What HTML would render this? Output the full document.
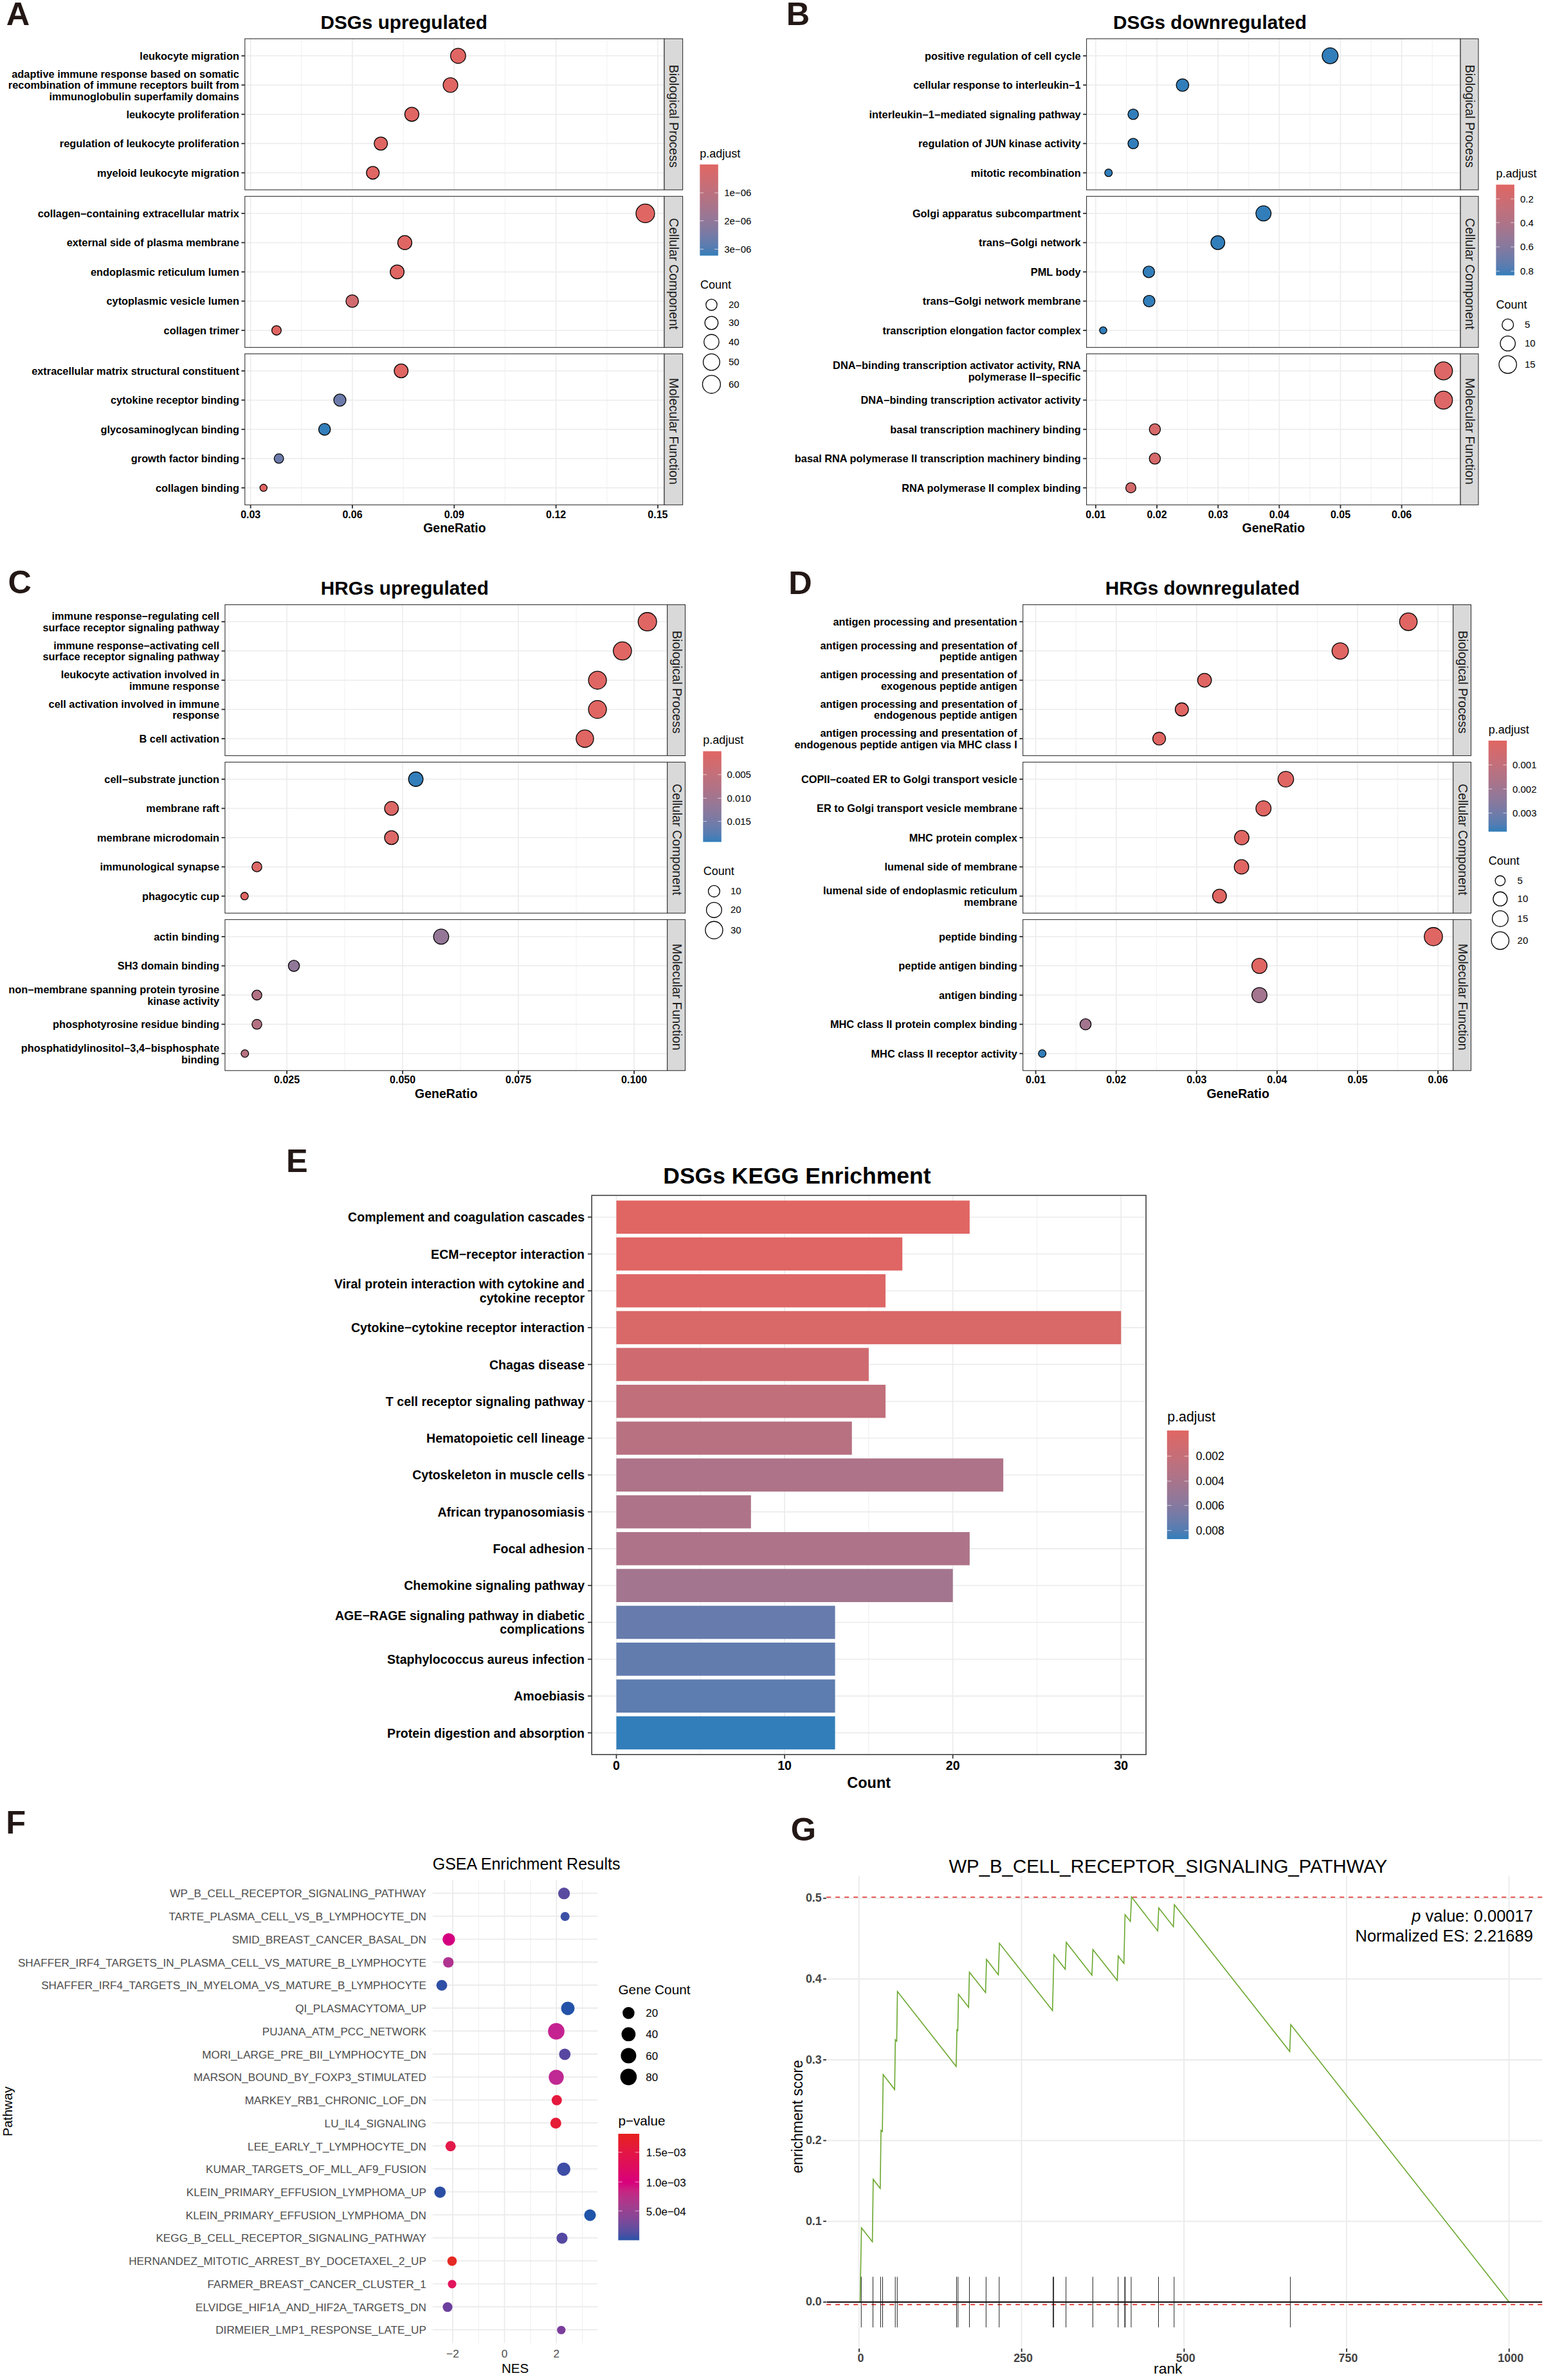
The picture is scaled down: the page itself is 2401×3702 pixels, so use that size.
<!DOCTYPE html>
<html lang="en"><head><meta charset="utf-8"><title>Enrichment figure</title>
<style>html,body{margin:0;padding:0;background:#fff}body{width:2401px;height:3702px;overflow:hidden;font-family:"Liberation Sans",Arial,sans-serif}svg text{white-space:pre}</style></head>
<body>
<svg width="2401" height="3702" viewBox="0 0 2401 3702" font-family="'Liberation Sans', Arial, sans-serif" style="display:block"><defs><linearGradient id="g1" x1="0" y1="0" x2="0" y2="1"><stop offset="0" stop-color="#E06663"/><stop offset="0.08" stop-color="#D7696A"/><stop offset="0.17" stop-color="#CD6C72"/><stop offset="0.25" stop-color="#C46F79"/><stop offset="0.33" stop-color="#B97180"/><stop offset="0.42" stop-color="#AF7387"/><stop offset="0.5" stop-color="#A3758E"/><stop offset="0.58" stop-color="#977796"/><stop offset="0.67" stop-color="#89799D"/><stop offset="0.75" stop-color="#7A7AA4"/><stop offset="0.83" stop-color="#697CAB"/><stop offset="0.92" stop-color="#537DB3"/><stop offset="1" stop-color="#327EBA"/></linearGradient><linearGradient id="g2" x1="0" y1="0" x2="0" y2="1"><stop offset="0" stop-color="#E06663"/><stop offset="0.08" stop-color="#D7696A"/><stop offset="0.17" stop-color="#CD6C72"/><stop offset="0.25" stop-color="#C46F79"/><stop offset="0.33" stop-color="#B97180"/><stop offset="0.42" stop-color="#AF7387"/><stop offset="0.5" stop-color="#A3758E"/><stop offset="0.58" stop-color="#977796"/><stop offset="0.67" stop-color="#89799D"/><stop offset="0.75" stop-color="#7A7AA4"/><stop offset="0.83" stop-color="#697CAB"/><stop offset="0.92" stop-color="#537DB3"/><stop offset="1" stop-color="#327EBA"/></linearGradient><linearGradient id="g3" x1="0" y1="0" x2="0" y2="1"><stop offset="0" stop-color="#E06663"/><stop offset="0.08" stop-color="#D7696A"/><stop offset="0.17" stop-color="#CD6C72"/><stop offset="0.25" stop-color="#C46F79"/><stop offset="0.33" stop-color="#B97180"/><stop offset="0.42" stop-color="#AF7387"/><stop offset="0.5" stop-color="#A3758E"/><stop offset="0.58" stop-color="#977796"/><stop offset="0.67" stop-color="#89799D"/><stop offset="0.75" stop-color="#7A7AA4"/><stop offset="0.83" stop-color="#697CAB"/><stop offset="0.92" stop-color="#537DB3"/><stop offset="1" stop-color="#327EBA"/></linearGradient><linearGradient id="g4" x1="0" y1="0" x2="0" y2="1"><stop offset="0" stop-color="#E06663"/><stop offset="0.08" stop-color="#D7696A"/><stop offset="0.17" stop-color="#CD6C72"/><stop offset="0.25" stop-color="#C46F79"/><stop offset="0.33" stop-color="#B97180"/><stop offset="0.42" stop-color="#AF7387"/><stop offset="0.5" stop-color="#A3758E"/><stop offset="0.58" stop-color="#977796"/><stop offset="0.67" stop-color="#89799D"/><stop offset="0.75" stop-color="#7A7AA4"/><stop offset="0.83" stop-color="#697CAB"/><stop offset="0.92" stop-color="#537DB3"/><stop offset="1" stop-color="#327EBA"/></linearGradient><linearGradient id="g5" x1="0" y1="0" x2="0" y2="1"><stop offset="0" stop-color="#E06663"/><stop offset="0.08" stop-color="#D7696A"/><stop offset="0.17" stop-color="#CD6C72"/><stop offset="0.25" stop-color="#C46F79"/><stop offset="0.33" stop-color="#B97180"/><stop offset="0.42" stop-color="#AF7387"/><stop offset="0.5" stop-color="#A3758E"/><stop offset="0.58" stop-color="#977796"/><stop offset="0.67" stop-color="#89799D"/><stop offset="0.75" stop-color="#7A7AA4"/><stop offset="0.83" stop-color="#697CAB"/><stop offset="0.92" stop-color="#537DB3"/><stop offset="1" stop-color="#327EBA"/></linearGradient><linearGradient id="g6" x1="0" y1="0" x2="0" y2="1"><stop offset="0" stop-color="#E6211D"/><stop offset="0.06" stop-color="#E51E2B"/><stop offset="0.12" stop-color="#E41A38"/><stop offset="0.17" stop-color="#E31644"/><stop offset="0.23" stop-color="#E1124F"/><stop offset="0.29" stop-color="#DF0E5A"/><stop offset="0.35" stop-color="#DD0966"/><stop offset="0.4" stop-color="#DB0471"/><stop offset="0.46" stop-color="#D8007C"/><stop offset="0.46" stop-color="#D8007C"/><stop offset="0.53" stop-color="#C92281"/><stop offset="0.59" stop-color="#B93087"/><stop offset="0.66" stop-color="#A83A8C"/><stop offset="0.73" stop-color="#964292"/><stop offset="0.8" stop-color="#834797"/><stop offset="0.86" stop-color="#6D4C9D"/><stop offset="0.93" stop-color="#534FA2"/><stop offset="1" stop-color="#2A52A8"/></linearGradient></defs>
<rect x="0" y="0" width="2401" height="3702" fill="#fff"/>
<text x="9.8" y="38.9" font-size="50.5" font-weight="bold" fill="#231815">A</text>
<text x="1222.85" y="38.9" font-size="50.5" font-weight="bold" fill="#231815">B</text>
<text x="12.55" y="923.2" font-size="50.5" font-weight="bold" fill="#231815">C</text>
<text x="1226.15" y="923.8" font-size="50.5" font-weight="bold" fill="#231815">D</text>
<text x="444.9" y="1822.8" font-size="50.5" font-weight="bold" fill="#231815">E</text>
<text x="9.35" y="2851.8" font-size="50.5" font-weight="bold" fill="#231815">F</text>
<text x="1229.85" y="2863.1" font-size="50.5" font-weight="bold" fill="#231815">G</text>
<rect x="380.8" y="60.3" width="652.2" height="235" fill="#fff"/>
<g stroke="#EBEBEB">
<line x1="468.86" y1="60.3" x2="468.86" y2="295.3" stroke="#EBEBEB" stroke-width="0.75"/>
<line x1="627.16" y1="60.3" x2="627.16" y2="295.3" stroke="#EBEBEB" stroke-width="0.75"/>
<line x1="785.47" y1="60.3" x2="785.47" y2="295.3" stroke="#EBEBEB" stroke-width="0.75"/>
<line x1="943.79" y1="60.3" x2="943.79" y2="295.3" stroke="#EBEBEB" stroke-width="0.75"/>
<line x1="389.7" y1="60.3" x2="389.7" y2="295.3" stroke="#EBEBEB" stroke-width="1.5"/>
<line x1="548.01" y1="60.3" x2="548.01" y2="295.3" stroke="#EBEBEB" stroke-width="1.5"/>
<line x1="706.32" y1="60.3" x2="706.32" y2="295.3" stroke="#EBEBEB" stroke-width="1.5"/>
<line x1="864.63" y1="60.3" x2="864.63" y2="295.3" stroke="#EBEBEB" stroke-width="1.5"/>
<line x1="1022.94" y1="60.3" x2="1022.94" y2="295.3" stroke="#EBEBEB" stroke-width="1.5"/>
<line x1="380.8" y1="86.82" x2="1033" y2="86.82" stroke="#EBEBEB" stroke-width="1.5"/>
<line x1="380.8" y1="132.31" x2="1033" y2="132.31" stroke="#EBEBEB" stroke-width="1.5"/>
<line x1="380.8" y1="177.8" x2="1033" y2="177.8" stroke="#EBEBEB" stroke-width="1.5"/>
<line x1="380.8" y1="223.29" x2="1033" y2="223.29" stroke="#EBEBEB" stroke-width="1.5"/>
<line x1="380.8" y1="268.78" x2="1033" y2="268.78" stroke="#EBEBEB" stroke-width="1.5"/>
</g>
<circle cx="712.4" cy="86.82" r="11.75" fill="#E06663" stroke="#000" stroke-width="1.3"/>
<circle cx="700.5" cy="132.31" r="11.35" fill="#E06663" stroke="#000" stroke-width="1.3"/>
<circle cx="640.4" cy="177.8" r="10.95" fill="#E06663" stroke="#000" stroke-width="1.3"/>
<circle cx="592.2" cy="223.29" r="10.25" fill="#E06663" stroke="#000" stroke-width="1.3"/>
<circle cx="579.8" cy="268.78" r="9.95" fill="#E06663" stroke="#000" stroke-width="1.3"/>
<rect x="380.8" y="60.3" width="652.2" height="235" fill="none" stroke="#333333" stroke-width="1.1"/>
<rect x="1033" y="60.3" width="28.6" height="235" fill="#D9D9D9" stroke="#333333" stroke-width="1.1"/>
<text transform="translate(1047.3 180.8) rotate(90)" text-anchor="middle" font-size="19.6" fill="#1A1A1A" y="6.0">Biological Process</text>
<line x1="375.4" y1="86.82" x2="380.8" y2="86.82" stroke="#333333" stroke-width="1.9"/>
<text x="371.9" y="92.8" font-size="16.38" font-weight="bold" text-anchor="end">leukocyte migration</text>
<line x1="375.4" y1="132.31" x2="380.8" y2="132.31" stroke="#333333" stroke-width="1.9"/>
<text x="371.9" y="120.6" font-size="16.38" font-weight="bold" text-anchor="end">adaptive immune response based on somatic</text>
<text x="371.9" y="138.29" font-size="16.38" font-weight="bold" text-anchor="end">recombination of immune receptors built from</text>
<text x="371.9" y="155.98" font-size="16.38" font-weight="bold" text-anchor="end">immunoglobulin superfamily domains</text>
<line x1="375.4" y1="177.8" x2="380.8" y2="177.8" stroke="#333333" stroke-width="1.9"/>
<text x="371.9" y="183.78" font-size="16.38" font-weight="bold" text-anchor="end">leukocyte proliferation</text>
<line x1="375.4" y1="223.29" x2="380.8" y2="223.29" stroke="#333333" stroke-width="1.9"/>
<text x="371.9" y="229.27" font-size="16.38" font-weight="bold" text-anchor="end">regulation of leukocyte proliferation</text>
<line x1="375.4" y1="268.78" x2="380.8" y2="268.78" stroke="#333333" stroke-width="1.9"/>
<text x="371.9" y="274.76" font-size="16.38" font-weight="bold" text-anchor="end">myeloid leukocyte migration</text>
<rect x="380.8" y="305.4" width="652.2" height="235" fill="#fff"/>
<g stroke="#EBEBEB">
<line x1="468.86" y1="305.4" x2="468.86" y2="540.4" stroke="#EBEBEB" stroke-width="0.75"/>
<line x1="627.16" y1="305.4" x2="627.16" y2="540.4" stroke="#EBEBEB" stroke-width="0.75"/>
<line x1="785.47" y1="305.4" x2="785.47" y2="540.4" stroke="#EBEBEB" stroke-width="0.75"/>
<line x1="943.79" y1="305.4" x2="943.79" y2="540.4" stroke="#EBEBEB" stroke-width="0.75"/>
<line x1="389.7" y1="305.4" x2="389.7" y2="540.4" stroke="#EBEBEB" stroke-width="1.5"/>
<line x1="548.01" y1="305.4" x2="548.01" y2="540.4" stroke="#EBEBEB" stroke-width="1.5"/>
<line x1="706.32" y1="305.4" x2="706.32" y2="540.4" stroke="#EBEBEB" stroke-width="1.5"/>
<line x1="864.63" y1="305.4" x2="864.63" y2="540.4" stroke="#EBEBEB" stroke-width="1.5"/>
<line x1="1022.94" y1="305.4" x2="1022.94" y2="540.4" stroke="#EBEBEB" stroke-width="1.5"/>
<line x1="380.8" y1="331.92" x2="1033" y2="331.92" stroke="#EBEBEB" stroke-width="1.5"/>
<line x1="380.8" y1="377.41" x2="1033" y2="377.41" stroke="#EBEBEB" stroke-width="1.5"/>
<line x1="380.8" y1="422.9" x2="1033" y2="422.9" stroke="#EBEBEB" stroke-width="1.5"/>
<line x1="380.8" y1="468.39" x2="1033" y2="468.39" stroke="#EBEBEB" stroke-width="1.5"/>
<line x1="380.8" y1="513.88" x2="1033" y2="513.88" stroke="#EBEBEB" stroke-width="1.5"/>
</g>
<circle cx="1003.5" cy="331.92" r="14.45" fill="#E06663" stroke="#000" stroke-width="1.3"/>
<circle cx="629.5" cy="377.41" r="10.95" fill="#E06663" stroke="#000" stroke-width="1.3"/>
<circle cx="617.6" cy="422.9" r="10.75" fill="#E06663" stroke="#000" stroke-width="1.3"/>
<circle cx="547.7" cy="468.39" r="9.75" fill="#D16B6F" stroke="#000" stroke-width="1.3"/>
<circle cx="430" cy="513.88" r="7.35" fill="#E06663" stroke="#000" stroke-width="1.3"/>
<rect x="380.8" y="305.4" width="652.2" height="235" fill="none" stroke="#333333" stroke-width="1.1"/>
<rect x="1033" y="305.4" width="28.6" height="235" fill="#D9D9D9" stroke="#333333" stroke-width="1.1"/>
<text transform="translate(1047.3 425.9) rotate(90)" text-anchor="middle" font-size="19.6" fill="#1A1A1A" y="6.0">Cellular Component</text>
<line x1="375.4" y1="331.92" x2="380.8" y2="331.92" stroke="#333333" stroke-width="1.9"/>
<text x="371.9" y="337.9" font-size="16.38" font-weight="bold" text-anchor="end">collagen−containing extracellular matrix</text>
<line x1="375.4" y1="377.41" x2="380.8" y2="377.41" stroke="#333333" stroke-width="1.9"/>
<text x="371.9" y="383.39" font-size="16.38" font-weight="bold" text-anchor="end">external side of plasma membrane</text>
<line x1="375.4" y1="422.9" x2="380.8" y2="422.9" stroke="#333333" stroke-width="1.9"/>
<text x="371.9" y="428.88" font-size="16.38" font-weight="bold" text-anchor="end">endoplasmic reticulum lumen</text>
<line x1="375.4" y1="468.39" x2="380.8" y2="468.39" stroke="#333333" stroke-width="1.9"/>
<text x="371.9" y="474.37" font-size="16.38" font-weight="bold" text-anchor="end">cytoplasmic vesicle lumen</text>
<line x1="375.4" y1="513.88" x2="380.8" y2="513.88" stroke="#333333" stroke-width="1.9"/>
<text x="371.9" y="519.86" font-size="16.38" font-weight="bold" text-anchor="end">collagen trimer</text>
<rect x="380.8" y="550.4" width="652.2" height="234.9" fill="#fff"/>
<g stroke="#EBEBEB">
<line x1="468.86" y1="550.4" x2="468.86" y2="785.3" stroke="#EBEBEB" stroke-width="0.75"/>
<line x1="627.16" y1="550.4" x2="627.16" y2="785.3" stroke="#EBEBEB" stroke-width="0.75"/>
<line x1="785.47" y1="550.4" x2="785.47" y2="785.3" stroke="#EBEBEB" stroke-width="0.75"/>
<line x1="943.79" y1="550.4" x2="943.79" y2="785.3" stroke="#EBEBEB" stroke-width="0.75"/>
<line x1="389.7" y1="550.4" x2="389.7" y2="785.3" stroke="#EBEBEB" stroke-width="1.5"/>
<line x1="548.01" y1="550.4" x2="548.01" y2="785.3" stroke="#EBEBEB" stroke-width="1.5"/>
<line x1="706.32" y1="550.4" x2="706.32" y2="785.3" stroke="#EBEBEB" stroke-width="1.5"/>
<line x1="864.63" y1="550.4" x2="864.63" y2="785.3" stroke="#EBEBEB" stroke-width="1.5"/>
<line x1="1022.94" y1="550.4" x2="1022.94" y2="785.3" stroke="#EBEBEB" stroke-width="1.5"/>
<line x1="380.8" y1="576.91" x2="1033" y2="576.91" stroke="#EBEBEB" stroke-width="1.5"/>
<line x1="380.8" y1="622.38" x2="1033" y2="622.38" stroke="#EBEBEB" stroke-width="1.5"/>
<line x1="380.8" y1="667.85" x2="1033" y2="667.85" stroke="#EBEBEB" stroke-width="1.5"/>
<line x1="380.8" y1="713.32" x2="1033" y2="713.32" stroke="#EBEBEB" stroke-width="1.5"/>
<line x1="380.8" y1="758.79" x2="1033" y2="758.79" stroke="#EBEBEB" stroke-width="1.5"/>
</g>
<circle cx="623.8" cy="576.91" r="10.75" fill="#E06663" stroke="#000" stroke-width="1.3"/>
<circle cx="528.5" cy="622.38" r="9.45" fill="#6C7BAA" stroke="#000" stroke-width="1.3"/>
<circle cx="504.7" cy="667.85" r="9.15" fill="#327EBA" stroke="#000" stroke-width="1.3"/>
<circle cx="433.7" cy="713.32" r="7.35" fill="#6C7BAA" stroke="#000" stroke-width="1.3"/>
<circle cx="409.8" cy="758.79" r="5.55" fill="#E06663" stroke="#000" stroke-width="1.3"/>
<rect x="380.8" y="550.4" width="652.2" height="234.9" fill="none" stroke="#333333" stroke-width="1.1"/>
<rect x="1033" y="550.4" width="28.6" height="234.9" fill="#D9D9D9" stroke="#333333" stroke-width="1.1"/>
<text transform="translate(1047.3 670.85) rotate(90)" text-anchor="middle" font-size="19.6" fill="#1A1A1A" y="6.0">Molecular Function</text>
<line x1="375.4" y1="576.91" x2="380.8" y2="576.91" stroke="#333333" stroke-width="1.9"/>
<text x="371.9" y="582.89" font-size="16.38" font-weight="bold" text-anchor="end">extracellular matrix structural constituent</text>
<line x1="375.4" y1="622.38" x2="380.8" y2="622.38" stroke="#333333" stroke-width="1.9"/>
<text x="371.9" y="628.36" font-size="16.38" font-weight="bold" text-anchor="end">cytokine receptor binding</text>
<line x1="375.4" y1="667.85" x2="380.8" y2="667.85" stroke="#333333" stroke-width="1.9"/>
<text x="371.9" y="673.83" font-size="16.38" font-weight="bold" text-anchor="end">glycosaminoglycan binding</text>
<line x1="375.4" y1="713.32" x2="380.8" y2="713.32" stroke="#333333" stroke-width="1.9"/>
<text x="371.9" y="719.3" font-size="16.38" font-weight="bold" text-anchor="end">growth factor binding</text>
<line x1="375.4" y1="758.79" x2="380.8" y2="758.79" stroke="#333333" stroke-width="1.9"/>
<text x="371.9" y="764.77" font-size="16.38" font-weight="bold" text-anchor="end">collagen binding</text>
<line x1="389.7" y1="785.3" x2="389.7" y2="790.7" stroke="#333333" stroke-width="1.9"/>
<text x="389.7" y="805.5" font-size="16" font-weight="bold" text-anchor="middle">0.03</text>
<line x1="548.01" y1="785.3" x2="548.01" y2="790.7" stroke="#333333" stroke-width="1.9"/>
<text x="548.01" y="805.5" font-size="16" font-weight="bold" text-anchor="middle">0.06</text>
<line x1="706.32" y1="785.3" x2="706.32" y2="790.7" stroke="#333333" stroke-width="1.9"/>
<text x="706.32" y="805.5" font-size="16" font-weight="bold" text-anchor="middle">0.09</text>
<line x1="864.63" y1="785.3" x2="864.63" y2="790.7" stroke="#333333" stroke-width="1.9"/>
<text x="864.63" y="805.5" font-size="16" font-weight="bold" text-anchor="middle">0.12</text>
<line x1="1022.94" y1="785.3" x2="1022.94" y2="790.7" stroke="#333333" stroke-width="1.9"/>
<text x="1022.94" y="805.5" font-size="16" font-weight="bold" text-anchor="middle">0.15</text>
<text x="706.9" y="827.9" font-size="19.5" font-weight="bold" text-anchor="middle">GeneRatio</text>
<text x="498.4" y="45" font-size="29.75" font-weight="bold">DSGs upregulated</text>
<rect x="1689.6" y="60.3" width="581.5" height="235" fill="#fff"/>
<g stroke="#EBEBEB">
<line x1="1751.48" y1="60.3" x2="1751.48" y2="295.3" stroke="#EBEBEB" stroke-width="0.75"/>
<line x1="1846.62" y1="60.3" x2="1846.62" y2="295.3" stroke="#EBEBEB" stroke-width="0.75"/>
<line x1="1941.78" y1="60.3" x2="1941.78" y2="295.3" stroke="#EBEBEB" stroke-width="0.75"/>
<line x1="2036.93" y1="60.3" x2="2036.93" y2="295.3" stroke="#EBEBEB" stroke-width="0.75"/>
<line x1="2132.08" y1="60.3" x2="2132.08" y2="295.3" stroke="#EBEBEB" stroke-width="0.75"/>
<line x1="2227.23" y1="60.3" x2="2227.23" y2="295.3" stroke="#EBEBEB" stroke-width="0.75"/>
<line x1="1703.9" y1="60.3" x2="1703.9" y2="295.3" stroke="#EBEBEB" stroke-width="1.5"/>
<line x1="1799.05" y1="60.3" x2="1799.05" y2="295.3" stroke="#EBEBEB" stroke-width="1.5"/>
<line x1="1894.2" y1="60.3" x2="1894.2" y2="295.3" stroke="#EBEBEB" stroke-width="1.5"/>
<line x1="1989.35" y1="60.3" x2="1989.35" y2="295.3" stroke="#EBEBEB" stroke-width="1.5"/>
<line x1="2084.5" y1="60.3" x2="2084.5" y2="295.3" stroke="#EBEBEB" stroke-width="1.5"/>
<line x1="2179.65" y1="60.3" x2="2179.65" y2="295.3" stroke="#EBEBEB" stroke-width="1.5"/>
<line x1="1689.6" y1="86.82" x2="2271.1" y2="86.82" stroke="#EBEBEB" stroke-width="1.5"/>
<line x1="1689.6" y1="132.31" x2="2271.1" y2="132.31" stroke="#EBEBEB" stroke-width="1.5"/>
<line x1="1689.6" y1="177.8" x2="2271.1" y2="177.8" stroke="#EBEBEB" stroke-width="1.5"/>
<line x1="1689.6" y1="223.29" x2="2271.1" y2="223.29" stroke="#EBEBEB" stroke-width="1.5"/>
<line x1="1689.6" y1="268.78" x2="2271.1" y2="268.78" stroke="#EBEBEB" stroke-width="1.5"/>
</g>
<circle cx="2068.4" cy="86.82" r="12.35" fill="#327EBA" stroke="#000" stroke-width="1.3"/>
<circle cx="1838.9" cy="132.31" r="9.75" fill="#327EBA" stroke="#000" stroke-width="1.3"/>
<circle cx="1762.2" cy="177.8" r="8.15" fill="#327EBA" stroke="#000" stroke-width="1.3"/>
<circle cx="1762.2" cy="223.29" r="8.15" fill="#327EBA" stroke="#000" stroke-width="1.3"/>
<circle cx="1723.8" cy="268.78" r="5.85" fill="#327EBA" stroke="#000" stroke-width="1.3"/>
<rect x="1689.6" y="60.3" width="581.5" height="235" fill="none" stroke="#333333" stroke-width="1.1"/>
<rect x="2271.1" y="60.3" width="27.9" height="235" fill="#D9D9D9" stroke="#333333" stroke-width="1.1"/>
<text transform="translate(2285.05 180.8) rotate(90)" text-anchor="middle" font-size="19.6" fill="#1A1A1A" y="6.0">Biological Process</text>
<line x1="1684.2" y1="86.82" x2="1689.6" y2="86.82" stroke="#333333" stroke-width="1.9"/>
<text x="1680.7" y="92.8" font-size="16.38" font-weight="bold" text-anchor="end">positive regulation of cell cycle</text>
<line x1="1684.2" y1="132.31" x2="1689.6" y2="132.31" stroke="#333333" stroke-width="1.9"/>
<text x="1680.7" y="138.29" font-size="16.38" font-weight="bold" text-anchor="end">cellular response to interleukin−1</text>
<line x1="1684.2" y1="177.8" x2="1689.6" y2="177.8" stroke="#333333" stroke-width="1.9"/>
<text x="1680.7" y="183.78" font-size="16.38" font-weight="bold" text-anchor="end">interleukin−1−mediated signaling pathway</text>
<line x1="1684.2" y1="223.29" x2="1689.6" y2="223.29" stroke="#333333" stroke-width="1.9"/>
<text x="1680.7" y="229.27" font-size="16.38" font-weight="bold" text-anchor="end">regulation of JUN kinase activity</text>
<line x1="1684.2" y1="268.78" x2="1689.6" y2="268.78" stroke="#333333" stroke-width="1.9"/>
<text x="1680.7" y="274.76" font-size="16.38" font-weight="bold" text-anchor="end">mitotic recombination</text>
<rect x="1689.6" y="305.4" width="581.5" height="235" fill="#fff"/>
<g stroke="#EBEBEB">
<line x1="1751.48" y1="305.4" x2="1751.48" y2="540.4" stroke="#EBEBEB" stroke-width="0.75"/>
<line x1="1846.62" y1="305.4" x2="1846.62" y2="540.4" stroke="#EBEBEB" stroke-width="0.75"/>
<line x1="1941.78" y1="305.4" x2="1941.78" y2="540.4" stroke="#EBEBEB" stroke-width="0.75"/>
<line x1="2036.93" y1="305.4" x2="2036.93" y2="540.4" stroke="#EBEBEB" stroke-width="0.75"/>
<line x1="2132.08" y1="305.4" x2="2132.08" y2="540.4" stroke="#EBEBEB" stroke-width="0.75"/>
<line x1="2227.23" y1="305.4" x2="2227.23" y2="540.4" stroke="#EBEBEB" stroke-width="0.75"/>
<line x1="1703.9" y1="305.4" x2="1703.9" y2="540.4" stroke="#EBEBEB" stroke-width="1.5"/>
<line x1="1799.05" y1="305.4" x2="1799.05" y2="540.4" stroke="#EBEBEB" stroke-width="1.5"/>
<line x1="1894.2" y1="305.4" x2="1894.2" y2="540.4" stroke="#EBEBEB" stroke-width="1.5"/>
<line x1="1989.35" y1="305.4" x2="1989.35" y2="540.4" stroke="#EBEBEB" stroke-width="1.5"/>
<line x1="2084.5" y1="305.4" x2="2084.5" y2="540.4" stroke="#EBEBEB" stroke-width="1.5"/>
<line x1="2179.65" y1="305.4" x2="2179.65" y2="540.4" stroke="#EBEBEB" stroke-width="1.5"/>
<line x1="1689.6" y1="331.92" x2="2271.1" y2="331.92" stroke="#EBEBEB" stroke-width="1.5"/>
<line x1="1689.6" y1="377.41" x2="2271.1" y2="377.41" stroke="#EBEBEB" stroke-width="1.5"/>
<line x1="1689.6" y1="422.9" x2="2271.1" y2="422.9" stroke="#EBEBEB" stroke-width="1.5"/>
<line x1="1689.6" y1="468.39" x2="2271.1" y2="468.39" stroke="#EBEBEB" stroke-width="1.5"/>
<line x1="1689.6" y1="513.88" x2="2271.1" y2="513.88" stroke="#EBEBEB" stroke-width="1.5"/>
</g>
<circle cx="1964.8" cy="331.92" r="11.75" fill="#327EBA" stroke="#000" stroke-width="1.3"/>
<circle cx="1893.8" cy="377.41" r="10.75" fill="#327EBA" stroke="#000" stroke-width="1.3"/>
<circle cx="1786.5" cy="422.9" r="8.95" fill="#327EBA" stroke="#000" stroke-width="1.3"/>
<circle cx="1787" cy="468.39" r="8.95" fill="#327EBA" stroke="#000" stroke-width="1.3"/>
<circle cx="1715.5" cy="513.88" r="5.55" fill="#327EBA" stroke="#000" stroke-width="1.3"/>
<rect x="1689.6" y="305.4" width="581.5" height="235" fill="none" stroke="#333333" stroke-width="1.1"/>
<rect x="2271.1" y="305.4" width="27.9" height="235" fill="#D9D9D9" stroke="#333333" stroke-width="1.1"/>
<text transform="translate(2285.05 425.9) rotate(90)" text-anchor="middle" font-size="19.6" fill="#1A1A1A" y="6.0">Cellular Component</text>
<line x1="1684.2" y1="331.92" x2="1689.6" y2="331.92" stroke="#333333" stroke-width="1.9"/>
<text x="1680.7" y="337.9" font-size="16.38" font-weight="bold" text-anchor="end">Golgi apparatus subcompartment</text>
<line x1="1684.2" y1="377.41" x2="1689.6" y2="377.41" stroke="#333333" stroke-width="1.9"/>
<text x="1680.7" y="383.39" font-size="16.38" font-weight="bold" text-anchor="end">trans−Golgi network</text>
<line x1="1684.2" y1="422.9" x2="1689.6" y2="422.9" stroke="#333333" stroke-width="1.9"/>
<text x="1680.7" y="428.88" font-size="16.38" font-weight="bold" text-anchor="end">PML body</text>
<line x1="1684.2" y1="468.39" x2="1689.6" y2="468.39" stroke="#333333" stroke-width="1.9"/>
<text x="1680.7" y="474.37" font-size="16.38" font-weight="bold" text-anchor="end">trans−Golgi network membrane</text>
<line x1="1684.2" y1="513.88" x2="1689.6" y2="513.88" stroke="#333333" stroke-width="1.9"/>
<text x="1680.7" y="519.86" font-size="16.38" font-weight="bold" text-anchor="end">transcription elongation factor complex</text>
<rect x="1689.6" y="550.4" width="581.5" height="234.9" fill="#fff"/>
<g stroke="#EBEBEB">
<line x1="1751.48" y1="550.4" x2="1751.48" y2="785.3" stroke="#EBEBEB" stroke-width="0.75"/>
<line x1="1846.62" y1="550.4" x2="1846.62" y2="785.3" stroke="#EBEBEB" stroke-width="0.75"/>
<line x1="1941.78" y1="550.4" x2="1941.78" y2="785.3" stroke="#EBEBEB" stroke-width="0.75"/>
<line x1="2036.93" y1="550.4" x2="2036.93" y2="785.3" stroke="#EBEBEB" stroke-width="0.75"/>
<line x1="2132.08" y1="550.4" x2="2132.08" y2="785.3" stroke="#EBEBEB" stroke-width="0.75"/>
<line x1="2227.23" y1="550.4" x2="2227.23" y2="785.3" stroke="#EBEBEB" stroke-width="0.75"/>
<line x1="1703.9" y1="550.4" x2="1703.9" y2="785.3" stroke="#EBEBEB" stroke-width="1.5"/>
<line x1="1799.05" y1="550.4" x2="1799.05" y2="785.3" stroke="#EBEBEB" stroke-width="1.5"/>
<line x1="1894.2" y1="550.4" x2="1894.2" y2="785.3" stroke="#EBEBEB" stroke-width="1.5"/>
<line x1="1989.35" y1="550.4" x2="1989.35" y2="785.3" stroke="#EBEBEB" stroke-width="1.5"/>
<line x1="2084.5" y1="550.4" x2="2084.5" y2="785.3" stroke="#EBEBEB" stroke-width="1.5"/>
<line x1="2179.65" y1="550.4" x2="2179.65" y2="785.3" stroke="#EBEBEB" stroke-width="1.5"/>
<line x1="1689.6" y1="576.91" x2="2271.1" y2="576.91" stroke="#EBEBEB" stroke-width="1.5"/>
<line x1="1689.6" y1="622.38" x2="2271.1" y2="622.38" stroke="#EBEBEB" stroke-width="1.5"/>
<line x1="1689.6" y1="667.85" x2="2271.1" y2="667.85" stroke="#EBEBEB" stroke-width="1.5"/>
<line x1="1689.6" y1="713.32" x2="2271.1" y2="713.32" stroke="#EBEBEB" stroke-width="1.5"/>
<line x1="1689.6" y1="758.79" x2="2271.1" y2="758.79" stroke="#EBEBEB" stroke-width="1.5"/>
</g>
<circle cx="2244.7" cy="576.91" r="13.95" fill="#DD6766" stroke="#000" stroke-width="1.3"/>
<circle cx="2244.7" cy="622.38" r="13.95" fill="#DD6766" stroke="#000" stroke-width="1.3"/>
<circle cx="1795.9" cy="667.85" r="8.65" fill="#D7696A" stroke="#000" stroke-width="1.3"/>
<circle cx="1795.9" cy="713.32" r="8.65" fill="#D7696A" stroke="#000" stroke-width="1.3"/>
<circle cx="1758.5" cy="758.79" r="7.85" fill="#D56A6C" stroke="#000" stroke-width="1.3"/>
<rect x="1689.6" y="550.4" width="581.5" height="234.9" fill="none" stroke="#333333" stroke-width="1.1"/>
<rect x="2271.1" y="550.4" width="27.9" height="234.9" fill="#D9D9D9" stroke="#333333" stroke-width="1.1"/>
<text transform="translate(2285.05 670.85) rotate(90)" text-anchor="middle" font-size="19.6" fill="#1A1A1A" y="6.0">Molecular Function</text>
<line x1="1684.2" y1="576.91" x2="1689.6" y2="576.91" stroke="#333333" stroke-width="1.9"/>
<text x="1680.7" y="574.04" font-size="16.38" font-weight="bold" text-anchor="end">DNA−binding transcription activator activity, RNA</text>
<text x="1680.7" y="591.73" font-size="16.38" font-weight="bold" text-anchor="end">polymerase II−specific</text>
<line x1="1684.2" y1="622.38" x2="1689.6" y2="622.38" stroke="#333333" stroke-width="1.9"/>
<text x="1680.7" y="628.36" font-size="16.38" font-weight="bold" text-anchor="end">DNA−binding transcription activator activity</text>
<line x1="1684.2" y1="667.85" x2="1689.6" y2="667.85" stroke="#333333" stroke-width="1.9"/>
<text x="1680.7" y="673.83" font-size="16.38" font-weight="bold" text-anchor="end">basal transcription machinery binding</text>
<line x1="1684.2" y1="713.32" x2="1689.6" y2="713.32" stroke="#333333" stroke-width="1.9"/>
<text x="1680.7" y="719.3" font-size="16.38" font-weight="bold" text-anchor="end">basal RNA polymerase II transcription machinery binding</text>
<line x1="1684.2" y1="758.79" x2="1689.6" y2="758.79" stroke="#333333" stroke-width="1.9"/>
<text x="1680.7" y="764.77" font-size="16.38" font-weight="bold" text-anchor="end">RNA polymerase II complex binding</text>
<line x1="1703.9" y1="785.3" x2="1703.9" y2="790.7" stroke="#333333" stroke-width="1.9"/>
<text x="1703.9" y="805.5" font-size="16" font-weight="bold" text-anchor="middle">0.01</text>
<line x1="1799.05" y1="785.3" x2="1799.05" y2="790.7" stroke="#333333" stroke-width="1.9"/>
<text x="1799.05" y="805.5" font-size="16" font-weight="bold" text-anchor="middle">0.02</text>
<line x1="1894.2" y1="785.3" x2="1894.2" y2="790.7" stroke="#333333" stroke-width="1.9"/>
<text x="1894.2" y="805.5" font-size="16" font-weight="bold" text-anchor="middle">0.03</text>
<line x1="1989.35" y1="785.3" x2="1989.35" y2="790.7" stroke="#333333" stroke-width="1.9"/>
<text x="1989.35" y="805.5" font-size="16" font-weight="bold" text-anchor="middle">0.04</text>
<line x1="2084.5" y1="785.3" x2="2084.5" y2="790.7" stroke="#333333" stroke-width="1.9"/>
<text x="2084.5" y="805.5" font-size="16" font-weight="bold" text-anchor="middle">0.05</text>
<line x1="2179.65" y1="785.3" x2="2179.65" y2="790.7" stroke="#333333" stroke-width="1.9"/>
<text x="2179.65" y="805.5" font-size="16" font-weight="bold" text-anchor="middle">0.06</text>
<text x="1980.35" y="827.9" font-size="19.5" font-weight="bold" text-anchor="middle">GeneRatio</text>
<text x="1731.1" y="44.9" font-size="29.75" font-weight="bold">DSGs downregulated</text>
<rect x="349.9" y="940.6" width="687.8" height="234.85" fill="#fff"/>
<g stroke="#EBEBEB">
<line x1="356.1" y1="940.6" x2="356.1" y2="1175.45" stroke="#EBEBEB" stroke-width="0.75"/>
<line x1="536.1" y1="940.6" x2="536.1" y2="1175.45" stroke="#EBEBEB" stroke-width="0.75"/>
<line x1="716.1" y1="940.6" x2="716.1" y2="1175.45" stroke="#EBEBEB" stroke-width="0.75"/>
<line x1="896.1" y1="940.6" x2="896.1" y2="1175.45" stroke="#EBEBEB" stroke-width="0.75"/>
<line x1="446.1" y1="940.6" x2="446.1" y2="1175.45" stroke="#EBEBEB" stroke-width="1.5"/>
<line x1="626.1" y1="940.6" x2="626.1" y2="1175.45" stroke="#EBEBEB" stroke-width="1.5"/>
<line x1="806.1" y1="940.6" x2="806.1" y2="1175.45" stroke="#EBEBEB" stroke-width="1.5"/>
<line x1="986.1" y1="940.6" x2="986.1" y2="1175.45" stroke="#EBEBEB" stroke-width="1.5"/>
<line x1="349.9" y1="967.1" x2="1037.7" y2="967.1" stroke="#EBEBEB" stroke-width="1.5"/>
<line x1="349.9" y1="1012.56" x2="1037.7" y2="1012.56" stroke="#EBEBEB" stroke-width="1.5"/>
<line x1="349.9" y1="1058.03" x2="1037.7" y2="1058.03" stroke="#EBEBEB" stroke-width="1.5"/>
<line x1="349.9" y1="1103.49" x2="1037.7" y2="1103.49" stroke="#EBEBEB" stroke-width="1.5"/>
<line x1="349.9" y1="1148.95" x2="1037.7" y2="1148.95" stroke="#EBEBEB" stroke-width="1.5"/>
</g>
<circle cx="1006.7" cy="967.1" r="14.35" fill="#E06663" stroke="#000" stroke-width="1.3"/>
<circle cx="967.9" cy="1012.56" r="14.15" fill="#E06663" stroke="#000" stroke-width="1.3"/>
<circle cx="929.1" cy="1058.03" r="13.95" fill="#E06663" stroke="#000" stroke-width="1.3"/>
<circle cx="929.1" cy="1103.49" r="13.95" fill="#E06663" stroke="#000" stroke-width="1.3"/>
<circle cx="909.5" cy="1148.95" r="13.55" fill="#E06663" stroke="#000" stroke-width="1.3"/>
<rect x="349.9" y="940.6" width="687.8" height="234.85" fill="none" stroke="#333333" stroke-width="1.1"/>
<rect x="1037.7" y="940.6" width="27.8" height="234.85" fill="#D9D9D9" stroke="#333333" stroke-width="1.1"/>
<text transform="translate(1051.6 1061.03) rotate(90)" text-anchor="middle" font-size="19.6" fill="#1A1A1A" y="6.0">Biological Process</text>
<line x1="344.5" y1="967.1" x2="349.9" y2="967.1" stroke="#333333" stroke-width="1.9"/>
<text x="341" y="964.24" font-size="16.38" font-weight="bold" text-anchor="end">immune response−regulating cell</text>
<text x="341" y="981.93" font-size="16.38" font-weight="bold" text-anchor="end">surface receptor signaling pathway</text>
<line x1="344.5" y1="1012.56" x2="349.9" y2="1012.56" stroke="#333333" stroke-width="1.9"/>
<text x="341" y="1009.7" font-size="16.38" font-weight="bold" text-anchor="end">immune response−activating cell</text>
<text x="341" y="1027.39" font-size="16.38" font-weight="bold" text-anchor="end">surface receptor signaling pathway</text>
<line x1="344.5" y1="1058.03" x2="349.9" y2="1058.03" stroke="#333333" stroke-width="1.9"/>
<text x="341" y="1055.16" font-size="16.38" font-weight="bold" text-anchor="end">leukocyte activation involved in</text>
<text x="341" y="1072.85" font-size="16.38" font-weight="bold" text-anchor="end">immune response</text>
<line x1="344.5" y1="1103.49" x2="349.9" y2="1103.49" stroke="#333333" stroke-width="1.9"/>
<text x="341" y="1100.62" font-size="16.38" font-weight="bold" text-anchor="end">cell activation involved in immune</text>
<text x="341" y="1118.31" font-size="16.38" font-weight="bold" text-anchor="end">response</text>
<line x1="344.5" y1="1148.95" x2="349.9" y2="1148.95" stroke="#333333" stroke-width="1.9"/>
<text x="341" y="1154.93" font-size="16.38" font-weight="bold" text-anchor="end">B cell activation</text>
<rect x="349.9" y="1185.5" width="687.8" height="234.85" fill="#fff"/>
<g stroke="#EBEBEB">
<line x1="356.1" y1="1185.5" x2="356.1" y2="1420.35" stroke="#EBEBEB" stroke-width="0.75"/>
<line x1="536.1" y1="1185.5" x2="536.1" y2="1420.35" stroke="#EBEBEB" stroke-width="0.75"/>
<line x1="716.1" y1="1185.5" x2="716.1" y2="1420.35" stroke="#EBEBEB" stroke-width="0.75"/>
<line x1="896.1" y1="1185.5" x2="896.1" y2="1420.35" stroke="#EBEBEB" stroke-width="0.75"/>
<line x1="446.1" y1="1185.5" x2="446.1" y2="1420.35" stroke="#EBEBEB" stroke-width="1.5"/>
<line x1="626.1" y1="1185.5" x2="626.1" y2="1420.35" stroke="#EBEBEB" stroke-width="1.5"/>
<line x1="806.1" y1="1185.5" x2="806.1" y2="1420.35" stroke="#EBEBEB" stroke-width="1.5"/>
<line x1="986.1" y1="1185.5" x2="986.1" y2="1420.35" stroke="#EBEBEB" stroke-width="1.5"/>
<line x1="349.9" y1="1212" x2="1037.7" y2="1212" stroke="#EBEBEB" stroke-width="1.5"/>
<line x1="349.9" y1="1257.46" x2="1037.7" y2="1257.46" stroke="#EBEBEB" stroke-width="1.5"/>
<line x1="349.9" y1="1302.92" x2="1037.7" y2="1302.92" stroke="#EBEBEB" stroke-width="1.5"/>
<line x1="349.9" y1="1348.39" x2="1037.7" y2="1348.39" stroke="#EBEBEB" stroke-width="1.5"/>
<line x1="349.9" y1="1393.85" x2="1037.7" y2="1393.85" stroke="#EBEBEB" stroke-width="1.5"/>
</g>
<circle cx="646.6" cy="1212" r="11.25" fill="#327EBA" stroke="#000" stroke-width="1.3"/>
<circle cx="608.8" cy="1257.46" r="10.75" fill="#DC6867" stroke="#000" stroke-width="1.3"/>
<circle cx="608.8" cy="1302.92" r="10.75" fill="#DC6867" stroke="#000" stroke-width="1.3"/>
<circle cx="399.5" cy="1348.39" r="7.65" fill="#DC6867" stroke="#000" stroke-width="1.3"/>
<circle cx="380.3" cy="1393.85" r="5.85" fill="#DE6765" stroke="#000" stroke-width="1.3"/>
<rect x="349.9" y="1185.5" width="687.8" height="234.85" fill="none" stroke="#333333" stroke-width="1.1"/>
<rect x="1037.7" y="1185.5" width="27.8" height="234.85" fill="#D9D9D9" stroke="#333333" stroke-width="1.1"/>
<text transform="translate(1051.6 1305.92) rotate(90)" text-anchor="middle" font-size="19.6" fill="#1A1A1A" y="6.0">Cellular Component</text>
<line x1="344.5" y1="1212" x2="349.9" y2="1212" stroke="#333333" stroke-width="1.9"/>
<text x="341" y="1217.98" font-size="16.38" font-weight="bold" text-anchor="end">cell−substrate junction</text>
<line x1="344.5" y1="1257.46" x2="349.9" y2="1257.46" stroke="#333333" stroke-width="1.9"/>
<text x="341" y="1263.44" font-size="16.38" font-weight="bold" text-anchor="end">membrane raft</text>
<line x1="344.5" y1="1302.92" x2="349.9" y2="1302.92" stroke="#333333" stroke-width="1.9"/>
<text x="341" y="1308.9" font-size="16.38" font-weight="bold" text-anchor="end">membrane microdomain</text>
<line x1="344.5" y1="1348.39" x2="349.9" y2="1348.39" stroke="#333333" stroke-width="1.9"/>
<text x="341" y="1354.36" font-size="16.38" font-weight="bold" text-anchor="end">immunological synapse</text>
<line x1="344.5" y1="1393.85" x2="349.9" y2="1393.85" stroke="#333333" stroke-width="1.9"/>
<text x="341" y="1399.83" font-size="16.38" font-weight="bold" text-anchor="end">phagocytic cup</text>
<rect x="349.9" y="1430.4" width="687.8" height="234.85" fill="#fff"/>
<g stroke="#EBEBEB">
<line x1="356.1" y1="1430.4" x2="356.1" y2="1665.25" stroke="#EBEBEB" stroke-width="0.75"/>
<line x1="536.1" y1="1430.4" x2="536.1" y2="1665.25" stroke="#EBEBEB" stroke-width="0.75"/>
<line x1="716.1" y1="1430.4" x2="716.1" y2="1665.25" stroke="#EBEBEB" stroke-width="0.75"/>
<line x1="896.1" y1="1430.4" x2="896.1" y2="1665.25" stroke="#EBEBEB" stroke-width="0.75"/>
<line x1="446.1" y1="1430.4" x2="446.1" y2="1665.25" stroke="#EBEBEB" stroke-width="1.5"/>
<line x1="626.1" y1="1430.4" x2="626.1" y2="1665.25" stroke="#EBEBEB" stroke-width="1.5"/>
<line x1="806.1" y1="1430.4" x2="806.1" y2="1665.25" stroke="#EBEBEB" stroke-width="1.5"/>
<line x1="986.1" y1="1430.4" x2="986.1" y2="1665.25" stroke="#EBEBEB" stroke-width="1.5"/>
<line x1="349.9" y1="1456.9" x2="1037.7" y2="1456.9" stroke="#EBEBEB" stroke-width="1.5"/>
<line x1="349.9" y1="1502.36" x2="1037.7" y2="1502.36" stroke="#EBEBEB" stroke-width="1.5"/>
<line x1="349.9" y1="1547.83" x2="1037.7" y2="1547.83" stroke="#EBEBEB" stroke-width="1.5"/>
<line x1="349.9" y1="1593.29" x2="1037.7" y2="1593.29" stroke="#EBEBEB" stroke-width="1.5"/>
<line x1="349.9" y1="1638.75" x2="1037.7" y2="1638.75" stroke="#EBEBEB" stroke-width="1.5"/>
</g>
<circle cx="686" cy="1456.9" r="11.75" fill="#947797" stroke="#000" stroke-width="1.3"/>
<circle cx="457" cy="1502.36" r="8.65" fill="#917899" stroke="#000" stroke-width="1.3"/>
<circle cx="399.5" cy="1547.83" r="7.65" fill="#B37284" stroke="#000" stroke-width="1.3"/>
<circle cx="399.5" cy="1593.29" r="7.65" fill="#B37284" stroke="#000" stroke-width="1.3"/>
<circle cx="380.8" cy="1638.75" r="5.85" fill="#B67282" stroke="#000" stroke-width="1.3"/>
<rect x="349.9" y="1430.4" width="687.8" height="234.85" fill="none" stroke="#333333" stroke-width="1.1"/>
<rect x="1037.7" y="1430.4" width="27.8" height="234.85" fill="#D9D9D9" stroke="#333333" stroke-width="1.1"/>
<text transform="translate(1051.6 1550.83) rotate(90)" text-anchor="middle" font-size="19.6" fill="#1A1A1A" y="6.0">Molecular Function</text>
<line x1="344.5" y1="1456.9" x2="349.9" y2="1456.9" stroke="#333333" stroke-width="1.9"/>
<text x="341" y="1462.88" font-size="16.38" font-weight="bold" text-anchor="end">actin binding</text>
<line x1="344.5" y1="1502.36" x2="349.9" y2="1502.36" stroke="#333333" stroke-width="1.9"/>
<text x="341" y="1508.34" font-size="16.38" font-weight="bold" text-anchor="end">SH3 domain binding</text>
<line x1="344.5" y1="1547.83" x2="349.9" y2="1547.83" stroke="#333333" stroke-width="1.9"/>
<text x="341" y="1544.96" font-size="16.38" font-weight="bold" text-anchor="end">non−membrane spanning protein tyrosine</text>
<text x="341" y="1562.65" font-size="16.38" font-weight="bold" text-anchor="end">kinase activity</text>
<line x1="344.5" y1="1593.29" x2="349.9" y2="1593.29" stroke="#333333" stroke-width="1.9"/>
<text x="341" y="1599.26" font-size="16.38" font-weight="bold" text-anchor="end">phosphotyrosine residue binding</text>
<line x1="344.5" y1="1638.75" x2="349.9" y2="1638.75" stroke="#333333" stroke-width="1.9"/>
<text x="341" y="1635.88" font-size="16.38" font-weight="bold" text-anchor="end">phosphatidylinositol−3,4−bisphosphate</text>
<text x="341" y="1653.57" font-size="16.38" font-weight="bold" text-anchor="end">binding</text>
<line x1="446.1" y1="1665.25" x2="446.1" y2="1670.65" stroke="#333333" stroke-width="1.9"/>
<text x="446.1" y="1685.45" font-size="16" font-weight="bold" text-anchor="middle">0.025</text>
<line x1="626.1" y1="1665.25" x2="626.1" y2="1670.65" stroke="#333333" stroke-width="1.9"/>
<text x="626.1" y="1685.45" font-size="16" font-weight="bold" text-anchor="middle">0.050</text>
<line x1="806.1" y1="1665.25" x2="806.1" y2="1670.65" stroke="#333333" stroke-width="1.9"/>
<text x="806.1" y="1685.45" font-size="16" font-weight="bold" text-anchor="middle">0.075</text>
<line x1="986.1" y1="1665.25" x2="986.1" y2="1670.65" stroke="#333333" stroke-width="1.9"/>
<text x="986.1" y="1685.45" font-size="16" font-weight="bold" text-anchor="middle">0.100</text>
<text x="693.8" y="1707.85" font-size="19.5" font-weight="bold" text-anchor="middle">GeneRatio</text>
<text x="498.8" y="925" font-size="29.75" font-weight="bold">HRGs upregulated</text>
<rect x="1590.7" y="940.6" width="669" height="234.85" fill="#fff"/>
<g stroke="#EBEBEB">
<line x1="1673.15" y1="940.6" x2="1673.15" y2="1175.45" stroke="#EBEBEB" stroke-width="0.75"/>
<line x1="1798.25" y1="940.6" x2="1798.25" y2="1175.45" stroke="#EBEBEB" stroke-width="0.75"/>
<line x1="1923.35" y1="940.6" x2="1923.35" y2="1175.45" stroke="#EBEBEB" stroke-width="0.75"/>
<line x1="2048.45" y1="940.6" x2="2048.45" y2="1175.45" stroke="#EBEBEB" stroke-width="0.75"/>
<line x1="2173.55" y1="940.6" x2="2173.55" y2="1175.45" stroke="#EBEBEB" stroke-width="0.75"/>
<line x1="1610.6" y1="940.6" x2="1610.6" y2="1175.45" stroke="#EBEBEB" stroke-width="1.5"/>
<line x1="1735.7" y1="940.6" x2="1735.7" y2="1175.45" stroke="#EBEBEB" stroke-width="1.5"/>
<line x1="1860.8" y1="940.6" x2="1860.8" y2="1175.45" stroke="#EBEBEB" stroke-width="1.5"/>
<line x1="1985.9" y1="940.6" x2="1985.9" y2="1175.45" stroke="#EBEBEB" stroke-width="1.5"/>
<line x1="2111" y1="940.6" x2="2111" y2="1175.45" stroke="#EBEBEB" stroke-width="1.5"/>
<line x1="2236.1" y1="940.6" x2="2236.1" y2="1175.45" stroke="#EBEBEB" stroke-width="1.5"/>
<line x1="1590.7" y1="967.1" x2="2259.7" y2="967.1" stroke="#EBEBEB" stroke-width="1.5"/>
<line x1="1590.7" y1="1012.56" x2="2259.7" y2="1012.56" stroke="#EBEBEB" stroke-width="1.5"/>
<line x1="1590.7" y1="1058.03" x2="2259.7" y2="1058.03" stroke="#EBEBEB" stroke-width="1.5"/>
<line x1="1590.7" y1="1103.49" x2="2259.7" y2="1103.49" stroke="#EBEBEB" stroke-width="1.5"/>
<line x1="1590.7" y1="1148.95" x2="2259.7" y2="1148.95" stroke="#EBEBEB" stroke-width="1.5"/>
</g>
<circle cx="2190.1" cy="967.1" r="13.65" fill="#E06663" stroke="#000" stroke-width="1.3"/>
<circle cx="2084.1" cy="1012.56" r="12.75" fill="#E06663" stroke="#000" stroke-width="1.3"/>
<circle cx="1873.1" cy="1058.03" r="10.75" fill="#E06663" stroke="#000" stroke-width="1.3"/>
<circle cx="1837.8" cy="1103.49" r="10.25" fill="#E06663" stroke="#000" stroke-width="1.3"/>
<circle cx="1802.6" cy="1148.95" r="9.95" fill="#E06663" stroke="#000" stroke-width="1.3"/>
<rect x="1590.7" y="940.6" width="669" height="234.85" fill="none" stroke="#333333" stroke-width="1.1"/>
<rect x="2259.7" y="940.6" width="27.8" height="234.85" fill="#D9D9D9" stroke="#333333" stroke-width="1.1"/>
<text transform="translate(2273.6 1061.03) rotate(90)" text-anchor="middle" font-size="19.6" fill="#1A1A1A" y="6.0">Biological Process</text>
<line x1="1585.3" y1="967.1" x2="1590.7" y2="967.1" stroke="#333333" stroke-width="1.9"/>
<text x="1581.8" y="973.08" font-size="16.38" font-weight="bold" text-anchor="end">antigen processing and presentation</text>
<line x1="1585.3" y1="1012.56" x2="1590.7" y2="1012.56" stroke="#333333" stroke-width="1.9"/>
<text x="1581.8" y="1009.7" font-size="16.38" font-weight="bold" text-anchor="end">antigen processing and presentation of</text>
<text x="1581.8" y="1027.39" font-size="16.38" font-weight="bold" text-anchor="end">peptide antigen</text>
<line x1="1585.3" y1="1058.03" x2="1590.7" y2="1058.03" stroke="#333333" stroke-width="1.9"/>
<text x="1581.8" y="1055.16" font-size="16.38" font-weight="bold" text-anchor="end">antigen processing and presentation of</text>
<text x="1581.8" y="1072.85" font-size="16.38" font-weight="bold" text-anchor="end">exogenous peptide antigen</text>
<line x1="1585.3" y1="1103.49" x2="1590.7" y2="1103.49" stroke="#333333" stroke-width="1.9"/>
<text x="1581.8" y="1100.62" font-size="16.38" font-weight="bold" text-anchor="end">antigen processing and presentation of</text>
<text x="1581.8" y="1118.31" font-size="16.38" font-weight="bold" text-anchor="end">endogenous peptide antigen</text>
<line x1="1585.3" y1="1148.95" x2="1590.7" y2="1148.95" stroke="#333333" stroke-width="1.9"/>
<text x="1581.8" y="1146.08" font-size="16.38" font-weight="bold" text-anchor="end">antigen processing and presentation of</text>
<text x="1581.8" y="1163.77" font-size="16.38" font-weight="bold" text-anchor="end">endogenous peptide antigen via MHC class I</text>
<rect x="1590.7" y="1185.5" width="669" height="234.85" fill="#fff"/>
<g stroke="#EBEBEB">
<line x1="1673.15" y1="1185.5" x2="1673.15" y2="1420.35" stroke="#EBEBEB" stroke-width="0.75"/>
<line x1="1798.25" y1="1185.5" x2="1798.25" y2="1420.35" stroke="#EBEBEB" stroke-width="0.75"/>
<line x1="1923.35" y1="1185.5" x2="1923.35" y2="1420.35" stroke="#EBEBEB" stroke-width="0.75"/>
<line x1="2048.45" y1="1185.5" x2="2048.45" y2="1420.35" stroke="#EBEBEB" stroke-width="0.75"/>
<line x1="2173.55" y1="1185.5" x2="2173.55" y2="1420.35" stroke="#EBEBEB" stroke-width="0.75"/>
<line x1="1610.6" y1="1185.5" x2="1610.6" y2="1420.35" stroke="#EBEBEB" stroke-width="1.5"/>
<line x1="1735.7" y1="1185.5" x2="1735.7" y2="1420.35" stroke="#EBEBEB" stroke-width="1.5"/>
<line x1="1860.8" y1="1185.5" x2="1860.8" y2="1420.35" stroke="#EBEBEB" stroke-width="1.5"/>
<line x1="1985.9" y1="1185.5" x2="1985.9" y2="1420.35" stroke="#EBEBEB" stroke-width="1.5"/>
<line x1="2111" y1="1185.5" x2="2111" y2="1420.35" stroke="#EBEBEB" stroke-width="1.5"/>
<line x1="2236.1" y1="1185.5" x2="2236.1" y2="1420.35" stroke="#EBEBEB" stroke-width="1.5"/>
<line x1="1590.7" y1="1212" x2="2259.7" y2="1212" stroke="#EBEBEB" stroke-width="1.5"/>
<line x1="1590.7" y1="1257.46" x2="2259.7" y2="1257.46" stroke="#EBEBEB" stroke-width="1.5"/>
<line x1="1590.7" y1="1302.92" x2="2259.7" y2="1302.92" stroke="#EBEBEB" stroke-width="1.5"/>
<line x1="1590.7" y1="1348.39" x2="2259.7" y2="1348.39" stroke="#EBEBEB" stroke-width="1.5"/>
<line x1="1590.7" y1="1393.85" x2="2259.7" y2="1393.85" stroke="#EBEBEB" stroke-width="1.5"/>
</g>
<circle cx="1999.5" cy="1212" r="12.15" fill="#E06663" stroke="#000" stroke-width="1.3"/>
<circle cx="1964.8" cy="1257.46" r="11.75" fill="#E06663" stroke="#000" stroke-width="1.3"/>
<circle cx="1931" cy="1302.92" r="11.25" fill="#E06663" stroke="#000" stroke-width="1.3"/>
<circle cx="1930.6" cy="1348.39" r="11.25" fill="#E06663" stroke="#000" stroke-width="1.3"/>
<circle cx="1896.4" cy="1393.85" r="10.75" fill="#E06663" stroke="#000" stroke-width="1.3"/>
<rect x="1590.7" y="1185.5" width="669" height="234.85" fill="none" stroke="#333333" stroke-width="1.1"/>
<rect x="2259.7" y="1185.5" width="27.8" height="234.85" fill="#D9D9D9" stroke="#333333" stroke-width="1.1"/>
<text transform="translate(2273.6 1305.92) rotate(90)" text-anchor="middle" font-size="19.6" fill="#1A1A1A" y="6.0">Cellular Component</text>
<line x1="1585.3" y1="1212" x2="1590.7" y2="1212" stroke="#333333" stroke-width="1.9"/>
<text x="1581.8" y="1217.98" font-size="16.38" font-weight="bold" text-anchor="end">COPII−coated ER to Golgi transport vesicle</text>
<line x1="1585.3" y1="1257.46" x2="1590.7" y2="1257.46" stroke="#333333" stroke-width="1.9"/>
<text x="1581.8" y="1263.44" font-size="16.38" font-weight="bold" text-anchor="end">ER to Golgi transport vesicle membrane</text>
<line x1="1585.3" y1="1302.92" x2="1590.7" y2="1302.92" stroke="#333333" stroke-width="1.9"/>
<text x="1581.8" y="1308.9" font-size="16.38" font-weight="bold" text-anchor="end">MHC protein complex</text>
<line x1="1585.3" y1="1348.39" x2="1590.7" y2="1348.39" stroke="#333333" stroke-width="1.9"/>
<text x="1581.8" y="1354.36" font-size="16.38" font-weight="bold" text-anchor="end">lumenal side of membrane</text>
<line x1="1585.3" y1="1393.85" x2="1590.7" y2="1393.85" stroke="#333333" stroke-width="1.9"/>
<text x="1581.8" y="1390.98" font-size="16.38" font-weight="bold" text-anchor="end">lumenal side of endoplasmic reticulum</text>
<text x="1581.8" y="1408.67" font-size="16.38" font-weight="bold" text-anchor="end">membrane</text>
<rect x="1590.7" y="1430.4" width="669" height="234.85" fill="#fff"/>
<g stroke="#EBEBEB">
<line x1="1673.15" y1="1430.4" x2="1673.15" y2="1665.25" stroke="#EBEBEB" stroke-width="0.75"/>
<line x1="1798.25" y1="1430.4" x2="1798.25" y2="1665.25" stroke="#EBEBEB" stroke-width="0.75"/>
<line x1="1923.35" y1="1430.4" x2="1923.35" y2="1665.25" stroke="#EBEBEB" stroke-width="0.75"/>
<line x1="2048.45" y1="1430.4" x2="2048.45" y2="1665.25" stroke="#EBEBEB" stroke-width="0.75"/>
<line x1="2173.55" y1="1430.4" x2="2173.55" y2="1665.25" stroke="#EBEBEB" stroke-width="0.75"/>
<line x1="1610.6" y1="1430.4" x2="1610.6" y2="1665.25" stroke="#EBEBEB" stroke-width="1.5"/>
<line x1="1735.7" y1="1430.4" x2="1735.7" y2="1665.25" stroke="#EBEBEB" stroke-width="1.5"/>
<line x1="1860.8" y1="1430.4" x2="1860.8" y2="1665.25" stroke="#EBEBEB" stroke-width="1.5"/>
<line x1="1985.9" y1="1430.4" x2="1985.9" y2="1665.25" stroke="#EBEBEB" stroke-width="1.5"/>
<line x1="2111" y1="1430.4" x2="2111" y2="1665.25" stroke="#EBEBEB" stroke-width="1.5"/>
<line x1="2236.1" y1="1430.4" x2="2236.1" y2="1665.25" stroke="#EBEBEB" stroke-width="1.5"/>
<line x1="1590.7" y1="1456.9" x2="2259.7" y2="1456.9" stroke="#EBEBEB" stroke-width="1.5"/>
<line x1="1590.7" y1="1502.36" x2="2259.7" y2="1502.36" stroke="#EBEBEB" stroke-width="1.5"/>
<line x1="1590.7" y1="1547.83" x2="2259.7" y2="1547.83" stroke="#EBEBEB" stroke-width="1.5"/>
<line x1="1590.7" y1="1593.29" x2="2259.7" y2="1593.29" stroke="#EBEBEB" stroke-width="1.5"/>
<line x1="1590.7" y1="1638.75" x2="2259.7" y2="1638.75" stroke="#EBEBEB" stroke-width="1.5"/>
</g>
<circle cx="2229" cy="1456.9" r="14.15" fill="#E06663" stroke="#000" stroke-width="1.3"/>
<circle cx="1958.5" cy="1502.36" r="11.75" fill="#E06663" stroke="#000" stroke-width="1.3"/>
<circle cx="1958.5" cy="1547.83" r="11.75" fill="#A3758E" stroke="#000" stroke-width="1.3"/>
<circle cx="1688.1" cy="1593.29" r="8.65" fill="#A3758E" stroke="#000" stroke-width="1.3"/>
<circle cx="1620.7" cy="1638.75" r="5.85" fill="#327EBA" stroke="#000" stroke-width="1.3"/>
<rect x="1590.7" y="1430.4" width="669" height="234.85" fill="none" stroke="#333333" stroke-width="1.1"/>
<rect x="2259.7" y="1430.4" width="27.8" height="234.85" fill="#D9D9D9" stroke="#333333" stroke-width="1.1"/>
<text transform="translate(2273.6 1550.83) rotate(90)" text-anchor="middle" font-size="19.6" fill="#1A1A1A" y="6.0">Molecular Function</text>
<line x1="1585.3" y1="1456.9" x2="1590.7" y2="1456.9" stroke="#333333" stroke-width="1.9"/>
<text x="1581.8" y="1462.88" font-size="16.38" font-weight="bold" text-anchor="end">peptide binding</text>
<line x1="1585.3" y1="1502.36" x2="1590.7" y2="1502.36" stroke="#333333" stroke-width="1.9"/>
<text x="1581.8" y="1508.34" font-size="16.38" font-weight="bold" text-anchor="end">peptide antigen binding</text>
<line x1="1585.3" y1="1547.83" x2="1590.7" y2="1547.83" stroke="#333333" stroke-width="1.9"/>
<text x="1581.8" y="1553.8" font-size="16.38" font-weight="bold" text-anchor="end">antigen binding</text>
<line x1="1585.3" y1="1593.29" x2="1590.7" y2="1593.29" stroke="#333333" stroke-width="1.9"/>
<text x="1581.8" y="1599.26" font-size="16.38" font-weight="bold" text-anchor="end">MHC class II protein complex binding</text>
<line x1="1585.3" y1="1638.75" x2="1590.7" y2="1638.75" stroke="#333333" stroke-width="1.9"/>
<text x="1581.8" y="1644.73" font-size="16.38" font-weight="bold" text-anchor="end">MHC class II receptor activity</text>
<line x1="1610.6" y1="1665.25" x2="1610.6" y2="1670.65" stroke="#333333" stroke-width="1.9"/>
<text x="1610.6" y="1685.45" font-size="16" font-weight="bold" text-anchor="middle">0.01</text>
<line x1="1735.7" y1="1665.25" x2="1735.7" y2="1670.65" stroke="#333333" stroke-width="1.9"/>
<text x="1735.7" y="1685.45" font-size="16" font-weight="bold" text-anchor="middle">0.02</text>
<line x1="1860.8" y1="1665.25" x2="1860.8" y2="1670.65" stroke="#333333" stroke-width="1.9"/>
<text x="1860.8" y="1685.45" font-size="16" font-weight="bold" text-anchor="middle">0.03</text>
<line x1="1985.9" y1="1665.25" x2="1985.9" y2="1670.65" stroke="#333333" stroke-width="1.9"/>
<text x="1985.9" y="1685.45" font-size="16" font-weight="bold" text-anchor="middle">0.04</text>
<line x1="2111" y1="1665.25" x2="2111" y2="1670.65" stroke="#333333" stroke-width="1.9"/>
<text x="2111" y="1685.45" font-size="16" font-weight="bold" text-anchor="middle">0.05</text>
<line x1="2236.1" y1="1665.25" x2="2236.1" y2="1670.65" stroke="#333333" stroke-width="1.9"/>
<text x="2236.1" y="1685.45" font-size="16" font-weight="bold" text-anchor="middle">0.06</text>
<text x="1925.2" y="1707.85" font-size="19.5" font-weight="bold" text-anchor="middle">GeneRatio</text>
<text x="1718.7" y="924.9" font-size="29.75" font-weight="bold">HRGs downregulated</text>
<rect x="1088.3" y="255.8" width="28.5" height="141.8" fill="url(#g1)"/>
<text x="1088.3" y="244.8" font-size="18">p.adjust</text>
<line x1="1088.3" y1="300" x2="1094" y2="300" stroke="#fff" stroke-width="1" stroke-opacity="0.65"/>
<line x1="1111.1" y1="300" x2="1116.8" y2="300" stroke="#fff" stroke-width="1" stroke-opacity="0.65"/>
<text x="1126.2" y="305.4" font-size="15">1e−06</text>
<line x1="1088.3" y1="343.4" x2="1094" y2="343.4" stroke="#fff" stroke-width="1" stroke-opacity="0.65"/>
<line x1="1111.1" y1="343.4" x2="1116.8" y2="343.4" stroke="#fff" stroke-width="1" stroke-opacity="0.65"/>
<text x="1126.2" y="348.8" font-size="15">2e−06</text>
<line x1="1088.3" y1="387.6" x2="1094" y2="387.6" stroke="#fff" stroke-width="1" stroke-opacity="0.65"/>
<line x1="1111.1" y1="387.6" x2="1116.8" y2="387.6" stroke="#fff" stroke-width="1" stroke-opacity="0.65"/>
<text x="1126.2" y="393" font-size="15">3e−06</text>
<text x="1089" y="449" font-size="18">Count</text>
<circle cx="1106.4" cy="474.1" r="8.65" fill="#fff" stroke="#000" stroke-width="1.3"/>
<text x="1133" y="479.1" font-size="15">20</text>
<circle cx="1106.4" cy="502.3" r="10.25" fill="#fff" stroke="#000" stroke-width="1.3"/>
<text x="1133" y="507.3" font-size="15">30</text>
<circle cx="1106.4" cy="531.9" r="11.65" fill="#fff" stroke="#000" stroke-width="1.3"/>
<text x="1133" y="536.9" font-size="15">40</text>
<circle cx="1106.4" cy="563.2" r="12.85" fill="#fff" stroke="#000" stroke-width="1.3"/>
<text x="1133" y="568.2" font-size="15">50</text>
<circle cx="1106.4" cy="597.8" r="13.95" fill="#fff" stroke="#000" stroke-width="1.3"/>
<text x="1133" y="602.8" font-size="15">60</text>
<rect x="2326.4" y="287.2" width="28.5" height="141.1" fill="url(#g2)"/>
<text x="2326.4" y="275.5" font-size="18">p.adjust</text>
<line x1="2326.4" y1="309.3" x2="2332.1" y2="309.3" stroke="#fff" stroke-width="1" stroke-opacity="0.65"/>
<line x1="2349.2" y1="309.3" x2="2354.9" y2="309.3" stroke="#fff" stroke-width="1" stroke-opacity="0.65"/>
<text x="2364" y="314.7" font-size="15">0.2</text>
<line x1="2326.4" y1="346.2" x2="2332.1" y2="346.2" stroke="#fff" stroke-width="1" stroke-opacity="0.65"/>
<line x1="2349.2" y1="346.2" x2="2354.9" y2="346.2" stroke="#fff" stroke-width="1" stroke-opacity="0.65"/>
<text x="2364" y="351.6" font-size="15">0.4</text>
<line x1="2326.4" y1="384" x2="2332.1" y2="384" stroke="#fff" stroke-width="1" stroke-opacity="0.65"/>
<line x1="2349.2" y1="384" x2="2354.9" y2="384" stroke="#fff" stroke-width="1" stroke-opacity="0.65"/>
<text x="2364" y="389.4" font-size="15">0.6</text>
<line x1="2326.4" y1="421.8" x2="2332.1" y2="421.8" stroke="#fff" stroke-width="1" stroke-opacity="0.65"/>
<line x1="2349.2" y1="421.8" x2="2354.9" y2="421.8" stroke="#fff" stroke-width="1" stroke-opacity="0.65"/>
<text x="2364" y="427.2" font-size="15">0.8</text>
<text x="2326.4" y="479.6" font-size="18">Count</text>
<circle cx="2344.7" cy="505" r="8.85" fill="#fff" stroke="#000" stroke-width="1.3"/>
<text x="2371" y="510" font-size="15">5</text>
<circle cx="2344.7" cy="534.2" r="11.65" fill="#fff" stroke="#000" stroke-width="1.3"/>
<text x="2371" y="539.2" font-size="15">10</text>
<circle cx="2344.7" cy="567.1" r="13.65" fill="#fff" stroke="#000" stroke-width="1.3"/>
<text x="2371" y="572.1" font-size="15">15</text>
<rect x="1093.3" y="1168.5" width="28.5" height="141.1" fill="url(#g3)"/>
<text x="1093.3" y="1156.8" font-size="18">p.adjust</text>
<line x1="1093.3" y1="1204.9" x2="1099" y2="1204.9" stroke="#fff" stroke-width="1" stroke-opacity="0.65"/>
<line x1="1116.1" y1="1204.9" x2="1121.8" y2="1204.9" stroke="#fff" stroke-width="1" stroke-opacity="0.65"/>
<text x="1130.4" y="1210.3" font-size="15">0.005</text>
<line x1="1093.3" y1="1241.6" x2="1099" y2="1241.6" stroke="#fff" stroke-width="1" stroke-opacity="0.65"/>
<line x1="1116.1" y1="1241.6" x2="1121.8" y2="1241.6" stroke="#fff" stroke-width="1" stroke-opacity="0.65"/>
<text x="1130.4" y="1247" font-size="15">0.010</text>
<line x1="1093.3" y1="1277.5" x2="1099" y2="1277.5" stroke="#fff" stroke-width="1" stroke-opacity="0.65"/>
<line x1="1116.1" y1="1277.5" x2="1121.8" y2="1277.5" stroke="#fff" stroke-width="1" stroke-opacity="0.65"/>
<text x="1130.4" y="1282.9" font-size="15">0.015</text>
<text x="1093.7" y="1360.6" font-size="18">Count</text>
<circle cx="1110.4" cy="1386.3" r="8.95" fill="#fff" stroke="#000" stroke-width="1.3"/>
<text x="1136" y="1391.3" font-size="15">10</text>
<circle cx="1110.4" cy="1415.4" r="11.85" fill="#fff" stroke="#000" stroke-width="1.3"/>
<text x="1136" y="1420.4" font-size="15">20</text>
<circle cx="1110.4" cy="1446.8" r="13.55" fill="#fff" stroke="#000" stroke-width="1.3"/>
<text x="1136" y="1451.8" font-size="15">30</text>
<rect x="2314.7" y="1152" width="28.5" height="141.6" fill="url(#g4)"/>
<text x="2314.7" y="1141.2" font-size="18">p.adjust</text>
<line x1="2314.7" y1="1189.8" x2="2320.4" y2="1189.8" stroke="#fff" stroke-width="1" stroke-opacity="0.65"/>
<line x1="2337.5" y1="1189.8" x2="2343.2" y2="1189.8" stroke="#fff" stroke-width="1" stroke-opacity="0.65"/>
<text x="2352" y="1195.2" font-size="15">0.001</text>
<line x1="2314.7" y1="1227.2" x2="2320.4" y2="1227.2" stroke="#fff" stroke-width="1" stroke-opacity="0.65"/>
<line x1="2337.5" y1="1227.2" x2="2343.2" y2="1227.2" stroke="#fff" stroke-width="1" stroke-opacity="0.65"/>
<text x="2352" y="1232.6" font-size="15">0.002</text>
<line x1="2314.7" y1="1264.7" x2="2320.4" y2="1264.7" stroke="#fff" stroke-width="1" stroke-opacity="0.65"/>
<line x1="2337.5" y1="1264.7" x2="2343.2" y2="1264.7" stroke="#fff" stroke-width="1" stroke-opacity="0.65"/>
<text x="2352" y="1270.1" font-size="15">0.003</text>
<text x="2314.7" y="1344.6" font-size="18">Count</text>
<circle cx="2332.9" cy="1370" r="7.75" fill="#fff" stroke="#000" stroke-width="1.3"/>
<text x="2359.6" y="1375" font-size="15">5</text>
<circle cx="2332.9" cy="1398.2" r="10.95" fill="#fff" stroke="#000" stroke-width="1.3"/>
<text x="2359.6" y="1403.2" font-size="15">10</text>
<circle cx="2332.9" cy="1428.9" r="12.35" fill="#fff" stroke="#000" stroke-width="1.3"/>
<text x="2359.6" y="1433.9" font-size="15">15</text>
<circle cx="2332.9" cy="1463.1" r="13.65" fill="#fff" stroke="#000" stroke-width="1.3"/>
<text x="2359.6" y="1468.1" font-size="15">20</text>
<rect x="920.2" y="1859.4" width="861.9" height="869.8" fill="#fff"/>
<line x1="1089.3" y1="1859.4" x2="1089.3" y2="2729.2" stroke="#EBEBEB" stroke-width="0.8"/>
<line x1="1350.9" y1="1859.4" x2="1350.9" y2="2729.2" stroke="#EBEBEB" stroke-width="0.8"/>
<line x1="1612.5" y1="1859.4" x2="1612.5" y2="2729.2" stroke="#EBEBEB" stroke-width="0.8"/>
<line x1="958.5" y1="1859.4" x2="958.5" y2="2729.2" stroke="#EBEBEB" stroke-width="1.6"/>
<line x1="1220.1" y1="1859.4" x2="1220.1" y2="2729.2" stroke="#EBEBEB" stroke-width="1.6"/>
<line x1="1481.7" y1="1859.4" x2="1481.7" y2="2729.2" stroke="#EBEBEB" stroke-width="1.6"/>
<line x1="1743.3" y1="1859.4" x2="1743.3" y2="2729.2" stroke="#EBEBEB" stroke-width="1.6"/>
<line x1="920.2" y1="1893.21" x2="1782.1" y2="1893.21" stroke="#EBEBEB" stroke-width="1.6"/>
<line x1="920.2" y1="1950.51" x2="1782.1" y2="1950.51" stroke="#EBEBEB" stroke-width="1.6"/>
<line x1="920.2" y1="2007.8" x2="1782.1" y2="2007.8" stroke="#EBEBEB" stroke-width="1.6"/>
<line x1="920.2" y1="2065.1" x2="1782.1" y2="2065.1" stroke="#EBEBEB" stroke-width="1.6"/>
<line x1="920.2" y1="2122.4" x2="1782.1" y2="2122.4" stroke="#EBEBEB" stroke-width="1.6"/>
<line x1="920.2" y1="2179.7" x2="1782.1" y2="2179.7" stroke="#EBEBEB" stroke-width="1.6"/>
<line x1="920.2" y1="2237" x2="1782.1" y2="2237" stroke="#EBEBEB" stroke-width="1.6"/>
<line x1="920.2" y1="2294.3" x2="1782.1" y2="2294.3" stroke="#EBEBEB" stroke-width="1.6"/>
<line x1="920.2" y1="2351.6" x2="1782.1" y2="2351.6" stroke="#EBEBEB" stroke-width="1.6"/>
<line x1="920.2" y1="2408.9" x2="1782.1" y2="2408.9" stroke="#EBEBEB" stroke-width="1.6"/>
<line x1="920.2" y1="2466.2" x2="1782.1" y2="2466.2" stroke="#EBEBEB" stroke-width="1.6"/>
<line x1="920.2" y1="2523.5" x2="1782.1" y2="2523.5" stroke="#EBEBEB" stroke-width="1.6"/>
<line x1="920.2" y1="2580.8" x2="1782.1" y2="2580.8" stroke="#EBEBEB" stroke-width="1.6"/>
<line x1="920.2" y1="2638.09" x2="1782.1" y2="2638.09" stroke="#EBEBEB" stroke-width="1.6"/>
<line x1="920.2" y1="2695.39" x2="1782.1" y2="2695.39" stroke="#EBEBEB" stroke-width="1.6"/>
<rect x="958.5" y="1867.42" width="549.36" height="51.57" fill="#E06663"/>
<rect x="958.5" y="1924.72" width="444.72" height="51.57" fill="#DF6664"/>
<rect x="958.5" y="1982.02" width="418.56" height="51.57" fill="#DD6766"/>
<rect x="958.5" y="2039.32" width="784.8" height="51.57" fill="#D96868"/>
<rect x="958.5" y="2096.62" width="392.4" height="51.57" fill="#CF6B70"/>
<rect x="958.5" y="2153.92" width="418.56" height="51.57" fill="#C06F7B"/>
<rect x="958.5" y="2211.22" width="366.24" height="51.57" fill="#B77181"/>
<rect x="958.5" y="2268.52" width="601.68" height="51.57" fill="#AE7388"/>
<rect x="958.5" y="2325.81" width="209.28" height="51.57" fill="#AE7388"/>
<rect x="958.5" y="2383.11" width="549.36" height="51.57" fill="#AE7388"/>
<rect x="958.5" y="2440.41" width="523.2" height="51.57" fill="#A3758E"/>
<rect x="958.5" y="2497.71" width="340.08" height="51.57" fill="#677CAC"/>
<rect x="958.5" y="2555.01" width="340.08" height="51.57" fill="#627CAE"/>
<rect x="958.5" y="2612.31" width="340.08" height="51.57" fill="#5D7CAF"/>
<rect x="958.5" y="2669.61" width="340.08" height="51.57" fill="#327EBA"/>
<rect x="920.2" y="1859.4" width="861.9" height="869.8" fill="none" stroke="#333333" stroke-width="1.5"/>
<line x1="914" y1="1893.21" x2="920.2" y2="1893.21" stroke="#333333" stroke-width="1.7"/>
<text x="909.1" y="1900.36" font-size="19.6" font-weight="bold" text-anchor="end">Complement and coagulation cascades</text>
<line x1="914" y1="1950.51" x2="920.2" y2="1950.51" stroke="#333333" stroke-width="1.7"/>
<text x="909.1" y="1957.66" font-size="19.6" font-weight="bold" text-anchor="end">ECM−receptor interaction</text>
<line x1="914" y1="2007.8" x2="920.2" y2="2007.8" stroke="#333333" stroke-width="1.7"/>
<text x="909.1" y="2004.37" font-size="19.6" font-weight="bold" text-anchor="end">Viral protein interaction with cytokine and</text>
<text x="909.1" y="2025.54" font-size="19.6" font-weight="bold" text-anchor="end">cytokine receptor</text>
<line x1="914" y1="2065.1" x2="920.2" y2="2065.1" stroke="#333333" stroke-width="1.7"/>
<text x="909.1" y="2072.26" font-size="19.6" font-weight="bold" text-anchor="end">Cytokine−cytokine receptor interaction</text>
<line x1="914" y1="2122.4" x2="920.2" y2="2122.4" stroke="#333333" stroke-width="1.7"/>
<text x="909.1" y="2129.56" font-size="19.6" font-weight="bold" text-anchor="end">Chagas disease</text>
<line x1="914" y1="2179.7" x2="920.2" y2="2179.7" stroke="#333333" stroke-width="1.7"/>
<text x="909.1" y="2186.86" font-size="19.6" font-weight="bold" text-anchor="end">T cell receptor signaling pathway</text>
<line x1="914" y1="2237" x2="920.2" y2="2237" stroke="#333333" stroke-width="1.7"/>
<text x="909.1" y="2244.15" font-size="19.6" font-weight="bold" text-anchor="end">Hematopoietic cell lineage</text>
<line x1="914" y1="2294.3" x2="920.2" y2="2294.3" stroke="#333333" stroke-width="1.7"/>
<text x="909.1" y="2301.45" font-size="19.6" font-weight="bold" text-anchor="end">Cytoskeleton in muscle cells</text>
<line x1="914" y1="2351.6" x2="920.2" y2="2351.6" stroke="#333333" stroke-width="1.7"/>
<text x="909.1" y="2358.75" font-size="19.6" font-weight="bold" text-anchor="end">African trypanosomiasis</text>
<line x1="914" y1="2408.9" x2="920.2" y2="2408.9" stroke="#333333" stroke-width="1.7"/>
<text x="909.1" y="2416.05" font-size="19.6" font-weight="bold" text-anchor="end">Focal adhesion</text>
<line x1="914" y1="2466.2" x2="920.2" y2="2466.2" stroke="#333333" stroke-width="1.7"/>
<text x="909.1" y="2473.35" font-size="19.6" font-weight="bold" text-anchor="end">Chemokine signaling pathway</text>
<line x1="914" y1="2523.5" x2="920.2" y2="2523.5" stroke="#333333" stroke-width="1.7"/>
<text x="909.1" y="2520.07" font-size="19.6" font-weight="bold" text-anchor="end">AGE−RAGE signaling pathway in diabetic</text>
<text x="909.1" y="2541.23" font-size="19.6" font-weight="bold" text-anchor="end">complications</text>
<line x1="914" y1="2580.8" x2="920.2" y2="2580.8" stroke="#333333" stroke-width="1.7"/>
<text x="909.1" y="2587.95" font-size="19.6" font-weight="bold" text-anchor="end">Staphylococcus aureus infection</text>
<line x1="914" y1="2638.09" x2="920.2" y2="2638.09" stroke="#333333" stroke-width="1.7"/>
<text x="909.1" y="2645.25" font-size="19.6" font-weight="bold" text-anchor="end">Amoebiasis</text>
<line x1="914" y1="2695.39" x2="920.2" y2="2695.39" stroke="#333333" stroke-width="1.7"/>
<text x="909.1" y="2702.55" font-size="19.6" font-weight="bold" text-anchor="end">Protein digestion and absorption</text>
<line x1="958.5" y1="2729.2" x2="958.5" y2="2735.4" stroke="#333333" stroke-width="1.7"/>
<text x="958.5" y="2753.4" font-size="19.6" font-weight="bold" text-anchor="middle">0</text>
<line x1="1220.1" y1="2729.2" x2="1220.1" y2="2735.4" stroke="#333333" stroke-width="1.7"/>
<text x="1220.1" y="2753.4" font-size="19.6" font-weight="bold" text-anchor="middle">10</text>
<line x1="1481.7" y1="2729.2" x2="1481.7" y2="2735.4" stroke="#333333" stroke-width="1.7"/>
<text x="1481.7" y="2753.4" font-size="19.6" font-weight="bold" text-anchor="middle">20</text>
<line x1="1743.3" y1="2729.2" x2="1743.3" y2="2735.4" stroke="#333333" stroke-width="1.7"/>
<text x="1743.3" y="2753.4" font-size="19.6" font-weight="bold" text-anchor="middle">30</text>
<text x="1351.15" y="2781" font-size="23.5" font-weight="bold" text-anchor="middle">Count</text>
<text x="1031.3" y="1841.3" font-size="35.5" font-weight="bold">DSGs KEGG Enrichment</text>
<rect x="1814.8" y="2225.1" width="33.6" height="168.9" fill="url(#g5)"/>
<text x="1815.3" y="2211.4" font-size="21.3">p.adjust</text>
<line x1="1814.8" y1="2265" x2="1821.52" y2="2265" stroke="#fff" stroke-width="1" stroke-opacity="0.65"/>
<line x1="1841.68" y1="2265" x2="1848.4" y2="2265" stroke="#fff" stroke-width="1" stroke-opacity="0.65"/>
<text x="1859.8" y="2271.34" font-size="17.6">0.002</text>
<line x1="1814.8" y1="2303.9" x2="1821.52" y2="2303.9" stroke="#fff" stroke-width="1" stroke-opacity="0.65"/>
<line x1="1841.68" y1="2303.9" x2="1848.4" y2="2303.9" stroke="#fff" stroke-width="1" stroke-opacity="0.65"/>
<text x="1859.8" y="2310.24" font-size="17.6">0.004</text>
<line x1="1814.8" y1="2341.7" x2="1821.52" y2="2341.7" stroke="#fff" stroke-width="1" stroke-opacity="0.65"/>
<line x1="1841.68" y1="2341.7" x2="1848.4" y2="2341.7" stroke="#fff" stroke-width="1" stroke-opacity="0.65"/>
<text x="1859.8" y="2348.04" font-size="17.6">0.006</text>
<line x1="1814.8" y1="2380.6" x2="1821.52" y2="2380.6" stroke="#fff" stroke-width="1" stroke-opacity="0.65"/>
<line x1="1841.68" y1="2380.6" x2="1848.4" y2="2380.6" stroke="#fff" stroke-width="1" stroke-opacity="0.65"/>
<text x="1859.8" y="2386.94" font-size="17.6">0.008</text>
<line x1="744.25" y1="2924.4" x2="744.25" y2="3644.5" stroke="#EBEBEB" stroke-width="0.85"/>
<line x1="824.95" y1="2924.4" x2="824.95" y2="3644.5" stroke="#EBEBEB" stroke-width="0.85"/>
<line x1="905.65" y1="2924.4" x2="905.65" y2="3644.5" stroke="#EBEBEB" stroke-width="0.85"/>
<line x1="703.9" y1="2924.4" x2="703.9" y2="3644.5" stroke="#EBEBEB" stroke-width="1.8"/>
<line x1="784.6" y1="2924.4" x2="784.6" y2="3644.5" stroke="#EBEBEB" stroke-width="1.8"/>
<line x1="865.3" y1="2924.4" x2="865.3" y2="3644.5" stroke="#EBEBEB" stroke-width="1.8"/>
<line x1="672.7" y1="2944.8" x2="929.6" y2="2944.8" stroke="#EBEBEB" stroke-width="1.8"/>
<line x1="672.7" y1="2980.54" x2="929.6" y2="2980.54" stroke="#EBEBEB" stroke-width="1.8"/>
<line x1="672.7" y1="3016.28" x2="929.6" y2="3016.28" stroke="#EBEBEB" stroke-width="1.8"/>
<line x1="672.7" y1="3052.02" x2="929.6" y2="3052.02" stroke="#EBEBEB" stroke-width="1.8"/>
<line x1="672.7" y1="3087.76" x2="929.6" y2="3087.76" stroke="#EBEBEB" stroke-width="1.8"/>
<line x1="672.7" y1="3123.5" x2="929.6" y2="3123.5" stroke="#EBEBEB" stroke-width="1.8"/>
<line x1="672.7" y1="3159.24" x2="929.6" y2="3159.24" stroke="#EBEBEB" stroke-width="1.8"/>
<line x1="672.7" y1="3194.98" x2="929.6" y2="3194.98" stroke="#EBEBEB" stroke-width="1.8"/>
<line x1="672.7" y1="3230.72" x2="929.6" y2="3230.72" stroke="#EBEBEB" stroke-width="1.8"/>
<line x1="672.7" y1="3266.46" x2="929.6" y2="3266.46" stroke="#EBEBEB" stroke-width="1.8"/>
<line x1="672.7" y1="3302.2" x2="929.6" y2="3302.2" stroke="#EBEBEB" stroke-width="1.8"/>
<line x1="672.7" y1="3337.94" x2="929.6" y2="3337.94" stroke="#EBEBEB" stroke-width="1.8"/>
<line x1="672.7" y1="3373.68" x2="929.6" y2="3373.68" stroke="#EBEBEB" stroke-width="1.8"/>
<line x1="672.7" y1="3409.42" x2="929.6" y2="3409.42" stroke="#EBEBEB" stroke-width="1.8"/>
<line x1="672.7" y1="3445.16" x2="929.6" y2="3445.16" stroke="#EBEBEB" stroke-width="1.8"/>
<line x1="672.7" y1="3480.9" x2="929.6" y2="3480.9" stroke="#EBEBEB" stroke-width="1.8"/>
<line x1="672.7" y1="3516.64" x2="929.6" y2="3516.64" stroke="#EBEBEB" stroke-width="1.8"/>
<line x1="672.7" y1="3552.38" x2="929.6" y2="3552.38" stroke="#EBEBEB" stroke-width="1.8"/>
<line x1="672.7" y1="3588.12" x2="929.6" y2="3588.12" stroke="#EBEBEB" stroke-width="1.8"/>
<line x1="672.7" y1="3623.86" x2="929.6" y2="3623.86" stroke="#EBEBEB" stroke-width="1.8"/>
<circle cx="877.1" cy="2945.2" r="9.1" fill="#5B4BA0"/>
<text x="662.9" y="2951.38" font-size="17.16" text-anchor="end" fill="#4D4D4D">WP_B_CELL_RECEPTOR_SIGNALING_PATHWAY</text>
<circle cx="878.7" cy="2980.94" r="7" fill="#3B50A5"/>
<text x="662.9" y="2987.12" font-size="17.16" text-anchor="end" fill="#4D4D4D">TARTE_PLASMA_CELL_VS_B_LYMPHOCYTE_DN</text>
<circle cx="697.9" cy="3016.68" r="9.7" fill="#D4007F"/>
<text x="662.9" y="3022.86" font-size="17.16" text-anchor="end" fill="#4D4D4D">SMID_BREAST_CANCER_BASAL_DN</text>
<circle cx="697.2" cy="3052.42" r="8.2" fill="#B03390"/>
<text x="662.9" y="3058.6" font-size="17.16" text-anchor="end" fill="#4D4D4D">SHAFFER_IRF4_TARGETS_IN_PLASMA_CELL_VS_MATURE_B_LYMPHOCYTE</text>
<circle cx="687" cy="3088.16" r="8.4" fill="#2F4FA6"/>
<text x="662.9" y="3094.34" font-size="17.16" text-anchor="end" fill="#4D4D4D">SHAFFER_IRF4_TARGETS_IN_MYELOMA_VS_MATURE_B_LYMPHOCYTE</text>
<circle cx="883" cy="3123.9" r="10.5" fill="#2452A8"/>
<text x="662.9" y="3130.08" font-size="17.16" text-anchor="end" fill="#4D4D4D">QI_PLASMACYTOMA_UP</text>
<circle cx="865" cy="3159.64" r="12.8" fill="#C42290"/>
<text x="662.9" y="3165.82" font-size="17.16" text-anchor="end" fill="#4D4D4D">PUJANA_ATM_PCC_NETWORK</text>
<circle cx="878.3" cy="3195.38" r="8.9" fill="#5847A0"/>
<text x="662.9" y="3201.56" font-size="17.16" text-anchor="end" fill="#4D4D4D">MORI_LARGE_PRE_BII_LYMPHOCYTE_DN</text>
<circle cx="865" cy="3231.12" r="11.7" fill="#C02893"/>
<text x="662.9" y="3237.3" font-size="17.16" text-anchor="end" fill="#4D4D4D">MARSON_BOUND_BY_FOXP3_STIMULATED</text>
<circle cx="865.8" cy="3266.86" r="8" fill="#E5193D"/>
<text x="662.9" y="3273.04" font-size="17.16" text-anchor="end" fill="#4D4D4D">MARKEY_RB1_CHRONIC_LOF_DN</text>
<circle cx="864.3" cy="3302.6" r="8.5" fill="#E51D36"/>
<text x="662.9" y="3308.78" font-size="17.16" text-anchor="end" fill="#4D4D4D">LU_IL4_SIGNALING</text>
<circle cx="700.7" cy="3338.34" r="8" fill="#E3194A"/>
<text x="662.9" y="3344.52" font-size="17.16" text-anchor="end" fill="#4D4D4D">LEE_EARLY_T_LYMPHOCYTE_DN</text>
<circle cx="876.7" cy="3374.08" r="10.3" fill="#3E4DA5"/>
<text x="662.9" y="3380.26" font-size="17.16" text-anchor="end" fill="#4D4D4D">KUMAR_TARGETS_OF_MLL_AF9_FUSION</text>
<circle cx="684.3" cy="3409.82" r="8.9" fill="#2B4EA4"/>
<text x="662.9" y="3416" font-size="17.16" text-anchor="end" fill="#4D4D4D">KLEIN_PRIMARY_EFFUSION_LYMPHOMA_UP</text>
<circle cx="917.5" cy="3445.56" r="9.1" fill="#1F54A8"/>
<text x="662.9" y="3451.74" font-size="17.16" text-anchor="end" fill="#4D4D4D">KLEIN_PRIMARY_EFFUSION_LYMPHOMA_DN</text>
<circle cx="874" cy="3481.3" r="8.6" fill="#5448A2"/>
<text x="662.9" y="3487.48" font-size="17.16" text-anchor="end" fill="#4D4D4D">KEGG_B_CELL_RECEPTOR_SIGNALING_PATHWAY</text>
<circle cx="703" cy="3517.04" r="7.4" fill="#E42A24"/>
<text x="662.9" y="3523.22" font-size="17.16" text-anchor="end" fill="#4D4D4D">HERNANDEZ_MITOTIC_ARREST_BY_DOCETAXEL_2_UP</text>
<circle cx="703" cy="3552.78" r="6.6" fill="#E2145C"/>
<text x="662.9" y="3558.96" font-size="17.16" text-anchor="end" fill="#4D4D4D">FARMER_BREAST_CANCER_CLUSTER_1</text>
<circle cx="696" cy="3588.52" r="7.6" fill="#6B3F9E"/>
<text x="662.9" y="3594.7" font-size="17.16" text-anchor="end" fill="#4D4D4D">ELVIDGE_HIF1A_AND_HIF2A_TARGETS_DN</text>
<circle cx="872.8" cy="3624.26" r="6.6" fill="#7B3D9C"/>
<text x="662.9" y="3630.44" font-size="17.16" text-anchor="end" fill="#4D4D4D">DIRMEIER_LMP1_RESPONSE_LATE_UP</text>
<text x="703.9" y="3667" font-size="17.16" text-anchor="middle" fill="#4D4D4D">−2</text>
<text x="784.6" y="3667" font-size="17.16" text-anchor="middle" fill="#4D4D4D">0</text>
<text x="865.3" y="3667" font-size="17.16" text-anchor="middle" fill="#4D4D4D">2</text>
<text x="801.15" y="3690.6" font-size="20.5" text-anchor="middle">NES</text>
<text x="19.2" y="3284.2" font-size="20.2" text-anchor="middle" transform="rotate(-90 19.2 3284.2)">Pathway</text>
<text x="672.7" y="2907.7" font-size="25">GSEA Enrichment Results</text>
<text x="961.4" y="3102" font-size="20.8">Gene Count</text>
<circle cx="977.4" cy="3131.1" r="9.3" fill="#000"/>
<text x="1004.2" y="3137.22" font-size="17">20</text>
<circle cx="977.4" cy="3164.2" r="10.9" fill="#000"/>
<text x="1004.2" y="3170.32" font-size="17">40</text>
<circle cx="977.4" cy="3197.6" r="12" fill="#000"/>
<text x="1004.2" y="3203.72" font-size="17">60</text>
<circle cx="977.4" cy="3230.6" r="12.8" fill="#000"/>
<text x="1004.2" y="3236.72" font-size="17">80</text>
<rect x="961.4" y="3319" width="32.7" height="165.6" fill="url(#g6)"/>
<text x="961.4" y="3305.8" font-size="20.7">p−value</text>
<line x1="961.4" y1="3347.8" x2="967.9" y2="3347.8" stroke="#fff" stroke-width="1" stroke-opacity="0.6"/>
<line x1="987.6" y1="3347.8" x2="994.1" y2="3347.8" stroke="#fff" stroke-width="1" stroke-opacity="0.6"/>
<text x="1004.8" y="3354.32" font-size="17">1.5e−03</text>
<line x1="961.4" y1="3394" x2="967.9" y2="3394" stroke="#fff" stroke-width="1" stroke-opacity="0.6"/>
<line x1="987.6" y1="3394" x2="994.1" y2="3394" stroke="#fff" stroke-width="1" stroke-opacity="0.6"/>
<text x="1004.8" y="3400.52" font-size="17">1.0e−03</text>
<line x1="961.4" y1="3439" x2="967.9" y2="3439" stroke="#fff" stroke-width="1" stroke-opacity="0.6"/>
<line x1="987.6" y1="3439" x2="994.1" y2="3439" stroke="#fff" stroke-width="1" stroke-opacity="0.6"/>
<text x="1004.8" y="3445.52" font-size="17">5.0e−04</text>
<line x1="1335.8" y1="2917.7" x2="1335.8" y2="3650.6" stroke="#EBEBEB" stroke-width="1.9"/>
<line x1="1588.5" y1="2917.7" x2="1588.5" y2="3650.6" stroke="#EBEBEB" stroke-width="1.9"/>
<line x1="1841.2" y1="2917.7" x2="1841.2" y2="3650.6" stroke="#EBEBEB" stroke-width="1.9"/>
<line x1="2093.9" y1="2917.7" x2="2093.9" y2="3650.6" stroke="#EBEBEB" stroke-width="1.9"/>
<line x1="2346.6" y1="2917.7" x2="2346.6" y2="3650.6" stroke="#EBEBEB" stroke-width="1.9"/>
<line x1="1285.5" y1="3455.18" x2="2398.2" y2="3455.18" stroke="#EBEBEB" stroke-width="1.9"/>
<line x1="1285.5" y1="3329.56" x2="2398.2" y2="3329.56" stroke="#EBEBEB" stroke-width="1.9"/>
<line x1="1285.5" y1="3203.94" x2="2398.2" y2="3203.94" stroke="#EBEBEB" stroke-width="1.9"/>
<line x1="1285.5" y1="3078.32" x2="2398.2" y2="3078.32" stroke="#EBEBEB" stroke-width="1.9"/>
<line x1="1285.5" y1="2952.7" x2="2398.2" y2="2952.7" stroke="#EBEBEB" stroke-width="1.9"/>
<line x1="1285.2" y1="2951" x2="2398.2" y2="2951" stroke="#E0241E" stroke-width="1.7" stroke-dasharray="7 7"/>
<line x1="1285.2" y1="3584.7" x2="2398.2" y2="3584.7" stroke="#E0241E" stroke-width="1.7" stroke-dasharray="7 7"/>
<polyline fill="none" stroke="#6AA72E" stroke-width="1.6" stroke-linejoin="miter" points="1337.5,3580.8 1339.6,3465.2 1356.6,3487 1357.9,3389.9 1368.8,3404 1370,3313.8 1372.1,3315.6 1373.4,3227 1391.2,3250.1 1392.3,3172.8 1394.4,3175 1395.6,3097.7 1486.9,3214.3 1488.1,3157.2 1489.4,3158.4 1490.5,3102.1 1506.2,3122.3 1507.5,3067.7 1532.6,3099.3 1534.1,3047.7 1552.5,3071.8 1554.1,3022.6 1636.7,3127.3 1638.9,3040.5 1656.5,3063 1658.1,3021.3 1698,3072.3 1699.5,3032.4 1737.4,3080.6 1738.9,3042.5 1747.7,3053.9 1749.5,2978.3 1757.8,2988.7 1759.6,2950.6 1800.3,3003.4 1801.9,2967.7 1824.7,2996.9 1826.2,2962.7 2005.6,3191.1 2007.2,3149.2 2346.8,3580.8"/>
<line x1="1285.5" y1="3580.8" x2="2398.2" y2="3580.8" stroke="#000" stroke-width="1.9"/>
<line x1="1339.3" y1="3541.5" x2="1339.3" y2="3620.2" stroke="#1A1A1A" stroke-width="0.95"/>
<line x1="1357.5" y1="3541.5" x2="1357.5" y2="3620.2" stroke="#1A1A1A" stroke-width="0.95"/>
<line x1="1369.4" y1="3541.5" x2="1369.4" y2="3620.2" stroke="#1A1A1A" stroke-width="0.95"/>
<line x1="1372.5" y1="3541.5" x2="1372.5" y2="3620.2" stroke="#1A1A1A" stroke-width="0.95"/>
<line x1="1392.2" y1="3541.5" x2="1392.2" y2="3620.2" stroke="#1A1A1A" stroke-width="0.95"/>
<line x1="1395.3" y1="3541.5" x2="1395.3" y2="3620.2" stroke="#1A1A1A" stroke-width="0.95"/>
<line x1="1487.5" y1="3541.5" x2="1487.5" y2="3620.2" stroke="#1A1A1A" stroke-width="0.95"/>
<line x1="1489.8" y1="3541.5" x2="1489.8" y2="3620.2" stroke="#1A1A1A" stroke-width="0.95"/>
<line x1="1507.5" y1="3541.5" x2="1507.5" y2="3620.2" stroke="#1A1A1A" stroke-width="0.95"/>
<line x1="1533.4" y1="3541.5" x2="1533.4" y2="3620.2" stroke="#1A1A1A" stroke-width="0.95"/>
<line x1="1553.8" y1="3541.5" x2="1553.8" y2="3620.2" stroke="#1A1A1A" stroke-width="0.95"/>
<line x1="1637.6" y1="3541.5" x2="1637.6" y2="3620.2" stroke="#1A1A1A" stroke-width="0.95"/>
<line x1="1638.6" y1="3541.5" x2="1638.6" y2="3620.2" stroke="#1A1A1A" stroke-width="0.95"/>
<line x1="1657.7" y1="3541.5" x2="1657.7" y2="3620.2" stroke="#1A1A1A" stroke-width="0.95"/>
<line x1="1699.4" y1="3541.5" x2="1699.4" y2="3620.2" stroke="#1A1A1A" stroke-width="0.95"/>
<line x1="1738.8" y1="3541.5" x2="1738.8" y2="3620.2" stroke="#1A1A1A" stroke-width="0.95"/>
<line x1="1748.9" y1="3541.5" x2="1748.9" y2="3620.2" stroke="#1A1A1A" stroke-width="0.95"/>
<line x1="1749.9" y1="3541.5" x2="1749.9" y2="3620.2" stroke="#1A1A1A" stroke-width="0.95"/>
<line x1="1759" y1="3541.5" x2="1759" y2="3620.2" stroke="#1A1A1A" stroke-width="0.95"/>
<line x1="1801.5" y1="3541.5" x2="1801.5" y2="3620.2" stroke="#1A1A1A" stroke-width="0.95"/>
<line x1="1825.8" y1="3541.5" x2="1825.8" y2="3620.2" stroke="#1A1A1A" stroke-width="0.95"/>
<line x1="2006.6" y1="3541.5" x2="2006.6" y2="3620.2" stroke="#1A1A1A" stroke-width="0.95"/>
<line x1="1336" y1="3652.9" x2="1336" y2="3658.4" stroke="#333" stroke-width="1.9"/>
<text x="1338.4" y="3673.9" font-size="17.9" font-weight="bold" text-anchor="middle" fill="#444444">0</text>
<line x1="1588.7" y1="3652.9" x2="1588.7" y2="3658.4" stroke="#333" stroke-width="1.9"/>
<text x="1591.1" y="3673.9" font-size="17.9" font-weight="bold" text-anchor="middle" fill="#444444">250</text>
<line x1="1841.4" y1="3652.9" x2="1841.4" y2="3658.4" stroke="#333" stroke-width="1.9"/>
<text x="1843.8" y="3673.9" font-size="17.9" font-weight="bold" text-anchor="middle" fill="#444444">500</text>
<line x1="2094.1" y1="3652.9" x2="2094.1" y2="3658.4" stroke="#333" stroke-width="1.9"/>
<text x="2096.5" y="3673.9" font-size="17.9" font-weight="bold" text-anchor="middle" fill="#444444">750</text>
<line x1="2346.8" y1="3652.9" x2="2346.8" y2="3658.4" stroke="#333" stroke-width="1.9"/>
<text x="2349.2" y="3673.9" font-size="17.9" font-weight="bold" text-anchor="middle" fill="#444444">1000</text>
<line x1="1280.2" y1="3580.8" x2="1284.9" y2="3580.8" stroke="#333" stroke-width="1.9"/>
<text x="1277.8" y="3586.4" font-size="17.9" font-weight="bold" text-anchor="end" fill="#444444">0.0</text>
<line x1="1280.2" y1="3455.18" x2="1284.9" y2="3455.18" stroke="#333" stroke-width="1.9"/>
<text x="1277.8" y="3460.78" font-size="17.9" font-weight="bold" text-anchor="end" fill="#444444">0.1</text>
<line x1="1280.2" y1="3329.56" x2="1284.9" y2="3329.56" stroke="#333" stroke-width="1.9"/>
<text x="1277.8" y="3335.16" font-size="17.9" font-weight="bold" text-anchor="end" fill="#444444">0.2</text>
<line x1="1280.2" y1="3203.94" x2="1284.9" y2="3203.94" stroke="#333" stroke-width="1.9"/>
<text x="1277.8" y="3209.54" font-size="17.9" font-weight="bold" text-anchor="end" fill="#444444">0.3</text>
<line x1="1280.2" y1="3078.32" x2="1284.9" y2="3078.32" stroke="#333" stroke-width="1.9"/>
<text x="1277.8" y="3083.92" font-size="17.9" font-weight="bold" text-anchor="end" fill="#444444">0.4</text>
<line x1="1280.2" y1="2952.7" x2="1284.9" y2="2952.7" stroke="#333" stroke-width="1.9"/>
<text x="1277.8" y="2958.3" font-size="17.9" font-weight="bold" text-anchor="end" fill="#444444">0.5</text>
<text x="1816.3" y="3692.4" font-size="22.9" text-anchor="middle">rank</text>
<text x="1247.6" y="3292.3" font-size="23" text-anchor="middle" transform="rotate(-90 1247.6 3292.3)">enrichment score</text>
<text x="1475.4" y="2913" font-size="29.37">WP_B_CELL_RECEPTOR_SIGNALING_PATHWAY</text>
<text x="2383.9" y="2988.6" font-size="25.5" text-anchor="end"><tspan font-style="italic">p</tspan> value: 0.00017</text>
<text x="2383.9" y="3019.5" font-size="25.5" text-anchor="end">Normalized ES: 2.21689</text>
</svg>
</body></html>
